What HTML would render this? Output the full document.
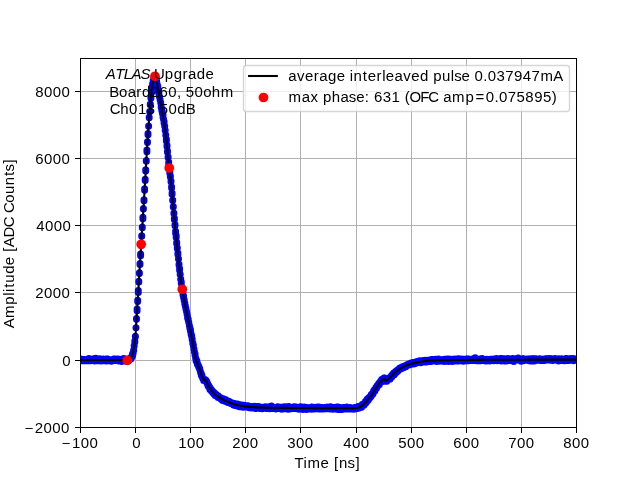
<!DOCTYPE html><html><head><meta charset="utf-8"><style>html,body{margin:0;padding:0;background:#fff;overflow:hidden}svg{display:block}</style></head><body>
<svg width="640" height="480" viewBox="0 0 640 480" style="font-family:'Liberation Sans',sans-serif;font-size:13.889px">
<rect width="640" height="480" fill="#fff"/>
<defs><clipPath id="ax"><rect x="80" y="57.6" width="496" height="369.6"/></clipPath></defs>
<path fill="#b0b0b0" d="M135 58h1v369h-1zM190 58h1v369h-1zM245 58h1v369h-1zM300 58h1v369h-1zM356 58h1v369h-1zM411 58h1v369h-1zM466 58h1v369h-1zM521 58h1v369h-1zM80 360h496v1h-496zM80 292h496v1h-496zM80 225h496v1h-496zM80 158h496v1h-496zM80 91h496v1h-496z"/>
<path fill="#000" d="M80 427h1v6h-1zM135 427h1v6h-1zM190 427h1v6h-1zM245 427h1v6h-1zM300 427h1v6h-1zM356 427h1v6h-1zM411 427h1v6h-1zM466 427h1v6h-1zM521 427h1v6h-1zM576 427h1v6h-1zM75 427h6v1h-6zM75 360h6v1h-6zM75 292h6v1h-6zM75 225h6v1h-6zM75 158h6v1h-6zM75 91h6v1h-6z"/>
<g clip-path="url(#ax)">
<path d="M80.3 360.4h0M80.3 359.8h0M80.3 360.2h0M80.9 360.8h0M80.9 360.6h0M80.9 359.0h0M81.4 360.8h0M81.4 359.9h0M81.4 359.7h0M82.0 359.7h0M82.0 360.7h0M82.0 360.2h0M82.6 359.9h0M82.6 359.6h0M82.6 360.3h0M83.2 360.6h0M83.2 359.5h0M83.2 359.4h0M83.7 359.8h0M83.7 360.3h0M83.7 359.8h0M84.3 359.9h0M84.3 359.5h0M84.3 360.7h0M84.9 359.9h0M84.9 360.1h0M84.9 360.6h0M85.5 359.9h0M85.5 360.0h0M85.5 360.2h0M86.0 359.8h0M86.0 360.8h0M86.0 360.0h0M86.6 359.8h0M86.6 359.8h0M86.6 359.4h0M87.2 360.6h0M87.2 360.8h0M87.2 359.9h0M87.7 359.8h0M87.7 358.9h0M87.7 359.7h0M88.3 360.5h0M88.3 359.6h0M88.3 360.5h0M88.9 360.8h0M88.9 358.6h0M88.9 359.8h0M89.5 359.6h0M89.5 359.7h0M89.5 359.0h0M90.0 359.8h0M90.0 359.3h0M90.0 360.6h0M90.6 360.7h0M90.6 359.2h0M90.6 359.2h0M91.2 359.7h0M91.2 359.9h0M91.2 359.9h0M91.8 360.4h0M91.8 359.2h0M91.8 359.6h0M92.3 359.7h0M92.3 359.8h0M92.3 359.4h0M92.9 359.7h0M92.9 359.6h0M92.9 360.6h0M93.5 359.7h0M93.5 358.8h0M93.5 360.3h0M94.1 360.1h0M94.1 359.5h0M94.1 359.5h0M94.6 359.7h0M94.6 360.9h0M94.6 359.7h0M95.2 360.6h0M95.2 360.4h0M95.2 359.7h0M95.8 360.2h0M95.8 359.6h0M95.8 358.3h0M96.4 359.6h0M96.4 359.6h0M96.4 360.5h0M96.9 360.3h0M96.9 360.6h0M96.9 360.3h0M97.5 360.6h0M97.5 360.4h0M97.5 360.1h0M98.1 360.5h0M98.1 360.8h0M98.1 360.7h0M98.7 359.8h0M98.7 360.0h0M98.7 359.4h0M99.2 359.4h0M99.2 360.2h0M99.2 359.6h0M99.8 360.8h0M99.8 358.8h0M99.8 359.4h0M100.4 360.1h0M100.4 360.6h0M100.4 359.8h0M101.0 361.0h0M101.0 360.4h0M101.0 359.6h0M101.5 360.0h0M101.5 360.3h0M101.5 359.5h0M102.1 360.6h0M102.1 359.8h0M102.1 360.3h0M102.7 360.5h0M102.7 359.8h0M102.7 360.5h0M103.2 359.0h0M103.2 360.3h0M103.2 358.9h0M103.8 360.6h0M103.8 359.7h0M103.8 360.6h0M104.4 360.7h0M104.4 359.9h0M104.4 359.6h0M105.0 360.7h0M105.0 359.4h0M105.0 360.4h0M105.5 359.9h0M105.5 359.8h0M105.5 359.7h0M106.1 361.0h0M106.1 359.1h0M106.1 359.7h0M106.7 360.2h0M106.7 360.6h0M106.7 360.9h0M107.3 360.7h0M107.3 359.7h0M107.3 360.2h0M107.8 360.6h0M107.8 360.3h0M107.8 359.2h0M108.4 360.2h0M108.4 360.3h0M108.4 359.3h0M109.0 359.8h0M109.0 360.0h0M109.0 360.3h0M109.6 360.8h0M109.6 360.6h0M109.6 360.3h0M110.1 360.1h0M110.1 359.8h0M110.1 359.7h0M110.7 359.9h0M110.7 359.9h0M110.7 360.5h0M111.3 361.2h0M111.3 360.3h0M111.3 360.5h0M111.9 360.4h0M111.9 360.1h0M111.9 360.7h0M112.4 360.6h0M112.4 360.1h0M112.4 359.9h0M113.0 360.4h0M113.0 359.7h0M113.0 360.1h0M113.6 360.5h0M113.6 360.0h0M113.6 359.0h0M114.2 360.4h0M114.2 359.4h0M114.2 359.3h0M114.7 359.2h0M114.7 360.4h0M114.7 358.9h0M115.3 359.9h0M115.3 360.1h0M115.3 360.1h0M115.9 359.7h0M115.9 360.0h0M115.9 360.1h0M116.5 359.3h0M116.5 360.4h0M116.5 360.6h0M117.0 359.6h0M117.0 359.6h0M117.0 359.4h0M117.6 360.6h0M117.6 359.4h0M117.6 359.7h0M118.2 359.1h0M118.2 360.7h0M118.2 359.9h0M118.7 360.1h0M118.7 360.9h0M118.7 360.4h0M119.3 359.4h0M119.3 360.3h0M119.3 360.4h0M119.9 359.5h0M119.9 359.5h0M119.9 359.5h0M120.5 360.4h0M120.5 360.0h0M120.5 359.4h0M121.0 360.4h0M121.0 360.4h0M121.0 359.6h0M121.6 359.2h0M121.6 360.6h0M121.6 361.4h0M122.2 360.8h0M122.2 360.5h0M122.2 360.1h0M122.8 359.7h0M122.8 360.1h0M122.8 360.4h0M123.3 359.9h0M123.3 360.5h0M123.3 360.0h0M123.9 360.3h0M123.9 358.6h0M123.9 359.6h0M124.5 360.4h0M124.5 360.5h0M124.5 360.2h0M125.1 360.9h0M125.1 360.4h0M125.1 360.4h0M125.6 359.5h0M125.6 360.2h0M125.6 360.4h0M126.2 360.7h0M126.2 360.6h0M126.2 360.0h0M126.8 360.1h0M126.8 359.4h0M126.8 360.3h0M127.4 359.3h0M127.4 359.8h0M127.4 359.9h0M127.9 360.9h0M127.9 360.5h0M127.9 359.4h0M128.5 359.0h0M128.5 359.6h0M128.5 359.3h0M129.1 359.8h0M129.1 359.8h0M129.1 360.0h0M129.7 358.9h0M129.7 359.3h0M129.7 359.6h0M130.2 359.2h0M130.2 358.8h0M130.2 358.9h0M130.8 359.0h0M130.8 357.5h0M130.8 358.4h0M131.4 357.6h0M131.4 356.9h0M131.4 357.1h0M132.0 356.6h0M132.0 356.4h0M132.0 357.0h0M132.5 355.0h0M132.5 356.0h0M132.5 354.0h0M133.1 353.6h0M133.1 352.5h0M133.1 353.0h0M133.7 350.4h0M133.7 349.9h0M133.7 349.9h0M134.2 346.1h0M134.2 345.4h0M134.2 345.9h0M134.8 341.3h0M134.8 342.2h0M134.8 341.1h0M135.4 336.2h0M135.4 336.5h0M135.4 336.8h0M136.0 327.7h0M136.0 327.8h0M136.0 327.7h0M136.5 318.8h0M136.5 319.2h0M136.5 318.4h0M137.1 310.8h0M137.1 310.2h0M137.1 309.0h0M137.7 301.5h0M137.7 300.8h0M137.7 300.3h0M138.3 292.6h0M138.3 290.4h0M138.3 292.2h0M138.8 281.3h0M138.8 281.4h0M138.8 281.9h0M139.4 273.6h0M139.4 272.8h0M139.4 273.1h0M140.0 263.5h0M140.0 264.4h0M140.0 264.0h0M140.6 253.9h0M140.6 255.8h0M140.6 254.8h0M141.1 245.6h0M141.1 245.6h0M141.1 245.0h0M141.7 235.7h0M141.7 236.3h0M141.7 236.3h0M142.3 227.7h0M142.3 227.3h0M142.3 227.0h0M142.9 218.7h0M142.9 217.2h0M142.9 217.4h0M143.4 208.4h0M143.4 208.9h0M143.4 208.8h0M144.0 199.7h0M144.0 200.4h0M144.0 200.7h0M144.6 189.4h0M144.6 190.2h0M144.6 188.7h0M145.2 179.3h0M145.2 180.4h0M145.2 180.5h0M145.7 169.7h0M145.7 170.9h0M145.7 170.3h0M146.3 161.0h0M146.3 161.3h0M146.3 160.6h0M146.9 150.1h0M146.9 151.5h0M146.9 151.8h0M147.5 141.8h0M147.5 142.3h0M147.5 142.4h0M148.0 133.9h0M148.0 134.7h0M148.0 133.4h0M148.6 126.3h0M148.6 125.9h0M148.6 126.1h0M149.2 117.4h0M149.2 117.3h0M149.2 117.7h0M149.7 111.7h0M149.7 111.5h0M149.7 111.5h0M150.3 104.8h0M150.3 104.6h0M150.3 104.1h0M150.9 96.7h0M150.9 97.7h0M150.9 98.2h0M151.5 92.2h0M151.5 92.4h0M151.5 91.5h0M152.0 86.5h0M152.0 88.2h0M152.0 87.1h0M152.6 84.2h0M152.6 83.8h0M152.6 84.1h0M153.2 82.3h0M153.2 82.1h0M153.2 80.6h0M153.8 78.7h0M153.8 79.6h0M153.8 78.6h0M154.3 77.2h0M154.3 78.0h0M154.3 78.3h0M154.9 76.8h0M154.9 75.8h0M154.9 76.0h0M155.5 76.1h0M155.5 75.9h0M155.5 75.7h0M156.1 79.0h0M156.1 78.1h0M156.1 78.1h0M156.6 81.3h0M156.6 81.0h0M156.6 80.9h0M157.2 84.2h0M157.2 85.1h0M157.2 84.4h0M157.8 86.2h0M157.8 87.9h0M157.8 88.4h0M158.4 90.3h0M158.4 89.7h0M158.4 90.3h0M158.9 94.1h0M158.9 93.1h0M158.9 93.8h0M159.5 97.1h0M159.5 96.7h0M159.5 97.0h0M160.1 99.4h0M160.1 99.7h0M160.1 99.7h0M160.7 102.7h0M160.7 102.8h0M160.7 102.6h0M161.2 107.4h0M161.2 107.1h0M161.2 106.2h0M161.8 110.5h0M161.8 109.7h0M161.8 109.7h0M162.4 113.1h0M162.4 113.2h0M162.4 112.1h0M163.0 117.3h0M163.0 115.6h0M163.0 114.7h0M163.5 119.1h0M163.5 119.3h0M163.5 119.1h0M164.1 121.5h0M164.1 123.3h0M164.1 122.6h0M164.7 126.3h0M164.7 126.2h0M164.7 126.2h0M165.2 130.3h0M165.2 130.4h0M165.2 130.4h0M165.8 135.3h0M165.8 135.1h0M165.8 135.2h0M166.4 140.2h0M166.4 141.0h0M166.4 139.3h0M167.0 145.6h0M167.0 146.5h0M167.0 145.2h0M167.5 152.3h0M167.5 151.1h0M167.5 151.6h0M168.1 156.8h0M168.1 157.5h0M168.1 157.4h0M168.7 162.5h0M168.7 161.9h0M168.7 164.5h0M169.3 167.8h0M169.3 167.7h0M169.3 168.5h0M169.8 173.2h0M169.8 171.7h0M169.8 172.8h0M170.4 175.9h0M170.4 177.0h0M170.4 176.9h0M171.0 181.8h0M171.0 181.3h0M171.0 181.0h0M171.6 186.7h0M171.6 187.9h0M171.6 187.3h0M172.1 192.9h0M172.1 193.1h0M172.1 194.2h0M172.7 200.4h0M172.7 200.5h0M172.7 200.1h0M173.3 206.4h0M173.3 206.9h0M173.3 206.4h0M173.9 213.4h0M173.9 213.1h0M173.9 213.0h0M174.4 218.2h0M174.4 219.7h0M174.4 218.4h0M175.0 224.4h0M175.0 225.6h0M175.0 225.7h0M175.6 233.2h0M175.6 231.2h0M175.6 231.2h0M176.2 235.6h0M176.2 237.5h0M176.2 236.4h0M176.7 243.1h0M176.7 242.2h0M176.7 243.8h0M177.3 247.7h0M177.3 248.4h0M177.3 247.9h0M177.9 253.7h0M177.9 254.4h0M177.9 253.0h0M178.5 258.8h0M178.5 258.9h0M178.5 259.0h0M179.0 264.3h0M179.0 264.4h0M179.0 265.0h0M179.6 270.2h0M179.6 268.6h0M179.6 268.9h0M180.2 274.3h0M180.2 274.4h0M180.2 274.5h0M180.7 278.9h0M180.7 279.2h0M180.7 279.3h0M181.3 282.0h0M181.3 283.0h0M181.3 283.6h0M181.9 287.9h0M181.9 287.7h0M181.9 286.9h0M182.5 290.4h0M182.5 291.1h0M182.5 290.7h0M183.0 294.4h0M183.0 294.9h0M183.0 293.3h0M183.6 297.3h0M183.6 296.1h0M183.6 297.8h0M184.2 300.4h0M184.2 299.8h0M184.2 300.4h0M184.8 303.9h0M184.8 303.6h0M184.8 303.1h0M185.3 305.6h0M185.3 306.0h0M185.3 305.4h0M185.9 308.2h0M185.9 308.5h0M185.9 308.8h0M186.5 311.6h0M186.5 311.4h0M186.5 311.2h0M187.1 314.5h0M187.1 314.3h0M187.1 314.6h0M187.6 318.0h0M187.6 317.9h0M187.6 316.9h0M188.2 319.8h0M188.2 319.0h0M188.2 320.1h0M188.8 322.4h0M188.8 322.2h0M188.8 322.2h0M189.4 325.6h0M189.4 325.7h0M189.4 325.4h0M189.9 328.4h0M189.9 328.0h0M189.9 327.5h0M190.5 331.1h0M190.5 329.8h0M190.5 331.3h0M191.1 333.8h0M191.1 333.9h0M191.1 334.4h0M191.7 336.6h0M191.7 336.6h0M191.7 335.7h0M192.2 339.0h0M192.2 339.1h0M192.2 339.7h0M192.8 343.4h0M192.8 342.7h0M192.8 343.2h0M193.4 345.3h0M193.4 345.9h0M193.4 345.1h0M194.0 348.9h0M194.0 349.0h0M194.0 349.2h0M194.5 352.3h0M194.5 352.2h0M194.5 351.8h0M195.1 355.6h0M195.1 355.3h0M195.1 354.1h0M195.7 358.2h0M195.7 358.1h0M195.7 358.5h0M196.2 361.1h0M196.2 359.6h0M196.2 360.1h0M196.8 362.0h0M196.8 361.2h0M196.8 360.8h0M197.4 364.2h0M197.4 363.2h0M197.4 363.4h0M198.0 364.7h0M198.0 364.9h0M198.0 365.2h0M198.5 365.7h0M198.5 366.3h0M198.5 366.4h0M199.1 367.2h0M199.1 367.4h0M199.1 367.7h0M199.7 369.1h0M199.7 368.4h0M199.7 369.2h0M200.3 371.2h0M200.3 371.4h0M200.3 371.2h0M200.8 373.3h0M200.8 372.8h0M200.8 372.6h0M201.4 375.6h0M201.4 374.3h0M201.4 374.0h0M202.0 375.9h0M202.0 376.6h0M202.0 375.4h0M202.6 377.7h0M202.6 378.1h0M202.6 378.1h0M203.1 379.0h0M203.1 378.4h0M203.1 378.4h0M203.7 379.9h0M203.7 380.6h0M203.7 380.3h0M204.3 380.3h0M204.3 380.0h0M204.3 380.8h0M204.9 379.6h0M204.9 379.4h0M204.9 379.8h0M205.4 379.9h0M205.4 380.7h0M205.4 380.9h0M206.0 381.2h0M206.0 380.3h0M206.0 380.3h0M206.6 382.2h0M206.6 381.2h0M206.6 382.1h0M207.2 382.4h0M207.2 383.0h0M207.2 383.5h0M207.7 383.8h0M207.7 384.7h0M207.7 384.8h0M208.3 386.2h0M208.3 385.3h0M208.3 385.5h0M208.9 386.7h0M208.9 386.8h0M208.9 385.7h0M209.5 387.7h0M209.5 388.0h0M209.5 386.9h0M210.0 387.7h0M210.0 388.3h0M210.0 389.4h0M210.6 389.6h0M210.6 388.9h0M210.6 389.2h0M211.2 389.2h0M211.2 390.7h0M211.2 389.7h0M211.7 391.1h0M211.7 390.0h0M211.7 390.8h0M212.3 390.9h0M212.3 391.8h0M212.3 392.1h0M212.9 392.6h0M212.9 392.4h0M212.9 392.7h0M213.5 392.0h0M213.5 391.9h0M213.5 392.5h0M214.0 393.9h0M214.0 393.3h0M214.0 393.6h0M214.6 393.1h0M214.6 393.6h0M214.6 393.6h0M215.2 394.5h0M215.2 395.5h0M215.2 394.8h0M215.8 395.5h0M215.8 394.7h0M215.8 394.7h0M216.3 395.8h0M216.3 395.5h0M216.3 394.5h0M216.9 396.3h0M216.9 396.3h0M216.9 395.9h0M217.5 396.6h0M217.5 396.4h0M217.5 395.9h0M218.1 395.7h0M218.1 397.6h0M218.1 396.6h0M218.6 397.0h0M218.6 397.1h0M218.6 397.1h0M219.2 397.6h0M219.2 396.9h0M219.2 397.6h0M219.8 397.8h0M219.8 397.7h0M219.8 397.7h0M220.4 398.2h0M220.4 397.5h0M220.4 398.1h0M220.9 398.3h0M220.9 398.5h0M220.9 399.0h0M221.5 399.2h0M221.5 399.4h0M221.5 398.7h0M222.1 399.5h0M222.1 399.7h0M222.1 399.0h0M222.7 399.2h0M222.7 400.4h0M222.7 398.5h0M223.2 399.7h0M223.2 399.8h0M223.2 399.2h0M223.8 400.0h0M223.8 400.4h0M223.8 398.9h0M224.4 400.9h0M224.4 400.4h0M224.4 399.9h0M225.0 401.2h0M225.0 400.7h0M225.0 400.4h0M225.5 399.6h0M225.5 401.4h0M225.5 400.9h0M226.1 400.8h0M226.1 401.1h0M226.1 401.8h0M226.7 401.2h0M226.7 401.3h0M226.7 401.2h0M227.2 401.1h0M227.2 401.1h0M227.2 401.4h0M227.8 401.7h0M227.8 402.5h0M227.8 401.9h0M228.4 402.0h0M228.4 402.3h0M228.4 402.1h0M229.0 402.8h0M229.0 401.5h0M229.0 401.2h0M229.5 402.8h0M229.5 402.4h0M229.5 402.7h0M230.1 402.1h0M230.1 402.6h0M230.1 402.7h0M230.7 403.1h0M230.7 402.9h0M230.7 403.5h0M231.3 402.9h0M231.3 403.6h0M231.3 403.0h0M231.8 403.4h0M231.8 402.8h0M231.8 403.4h0M232.4 403.1h0M232.4 404.1h0M232.4 403.3h0M233.0 404.0h0M233.0 403.7h0M233.0 403.8h0M233.6 403.5h0M233.6 405.1h0M233.6 403.9h0M234.1 405.0h0M234.1 403.6h0M234.1 405.3h0M234.7 404.9h0M234.7 405.3h0M234.7 403.5h0M235.3 405.2h0M235.3 404.5h0M235.3 404.8h0M235.9 405.7h0M235.9 404.9h0M235.9 404.4h0M236.4 405.0h0M236.4 404.3h0M236.4 405.0h0M237.0 405.0h0M237.0 405.2h0M237.0 404.8h0M237.6 404.1h0M237.6 404.9h0M237.6 405.0h0M238.2 405.6h0M238.2 405.6h0M238.2 404.5h0M238.7 406.0h0M238.7 405.8h0M238.7 405.4h0M239.3 405.7h0M239.3 404.4h0M239.3 406.7h0M239.9 405.4h0M239.9 405.2h0M239.9 406.2h0M240.5 406.0h0M240.5 405.5h0M240.5 404.8h0M241.0 406.3h0M241.0 406.6h0M241.0 405.3h0M241.6 405.1h0M241.6 406.1h0M241.6 407.1h0M242.2 405.2h0M242.2 406.1h0M242.2 405.4h0M242.7 406.1h0M242.7 406.3h0M242.7 406.3h0M243.3 405.4h0M243.3 405.4h0M243.3 407.3h0M243.9 406.7h0M243.9 405.3h0M243.9 406.4h0M244.5 407.1h0M244.5 406.3h0M244.5 406.4h0M245.0 406.5h0M245.0 406.7h0M245.0 406.6h0M245.6 406.7h0M245.6 406.3h0M245.6 406.9h0M246.2 406.7h0M246.2 406.6h0M246.2 405.8h0M246.8 406.4h0M246.8 406.6h0M246.8 406.3h0M247.3 406.4h0M247.3 406.1h0M247.3 406.4h0M247.9 405.7h0M247.9 406.0h0M247.9 406.7h0M248.5 407.0h0M248.5 406.3h0M248.5 406.5h0M249.1 406.9h0M249.1 407.6h0M249.1 407.8h0M249.6 406.7h0M249.6 406.4h0M249.6 406.4h0M250.2 407.6h0M250.2 406.4h0M250.2 407.2h0M250.8 406.7h0M250.8 406.7h0M250.8 407.4h0M251.4 407.3h0M251.4 408.1h0M251.4 407.5h0M251.9 408.0h0M251.9 406.8h0M251.9 407.0h0M252.5 406.6h0M252.5 406.9h0M252.5 407.4h0M253.1 407.0h0M253.1 407.4h0M253.1 406.8h0M253.7 407.0h0M253.7 407.7h0M253.7 407.2h0M254.2 407.2h0M254.2 407.4h0M254.2 406.7h0M254.8 406.3h0M254.8 407.5h0M254.8 407.5h0M255.4 408.5h0M255.4 407.4h0M255.4 407.5h0M256.0 408.5h0M256.0 407.2h0M256.0 407.0h0M256.5 407.8h0M256.5 407.6h0M256.5 407.9h0M257.1 407.0h0M257.1 408.2h0M257.1 407.6h0M257.7 406.4h0M257.7 407.4h0M257.7 407.2h0M258.2 407.5h0M258.2 408.1h0M258.2 407.5h0M258.8 407.2h0M258.8 408.0h0M258.8 407.3h0M259.4 406.8h0M259.4 406.9h0M259.4 408.3h0M260.0 408.0h0M260.0 408.4h0M260.0 406.9h0M260.5 407.2h0M260.5 407.1h0M260.5 408.0h0M261.1 408.2h0M261.1 407.5h0M261.1 407.5h0M261.7 408.0h0M261.7 407.5h0M261.7 407.2h0M262.3 407.4h0M262.3 408.1h0M262.3 408.7h0M262.8 407.7h0M262.8 407.5h0M262.8 407.7h0M263.4 407.8h0M263.4 407.9h0M263.4 407.2h0M264.0 407.6h0M264.0 407.5h0M264.0 408.1h0M264.6 407.9h0M264.6 407.5h0M264.6 408.1h0M265.1 408.3h0M265.1 407.8h0M265.1 407.0h0M265.7 407.5h0M265.7 406.8h0M265.7 407.7h0M266.3 407.8h0M266.3 408.4h0M266.3 407.9h0M266.9 406.9h0M266.9 407.5h0M266.9 407.2h0M267.4 407.3h0M267.4 407.7h0M267.4 407.8h0M268.0 407.6h0M268.0 407.3h0M268.0 407.4h0M268.6 407.4h0M268.6 407.6h0M268.6 408.1h0M269.2 407.8h0M269.2 408.2h0M269.2 407.1h0M269.7 408.8h0M269.7 407.8h0M269.7 406.4h0M270.3 407.9h0M270.3 408.3h0M270.3 407.7h0M270.9 407.0h0M270.9 407.8h0M270.9 407.4h0M271.5 407.7h0M271.5 407.9h0M271.5 406.0h0M272.0 407.7h0M272.0 408.0h0M272.0 408.0h0M272.6 407.5h0M272.6 407.5h0M272.6 407.3h0M273.2 407.7h0M273.2 408.5h0M273.2 407.5h0M273.7 407.9h0M273.7 407.9h0M273.7 408.6h0M274.3 408.1h0M274.3 408.2h0M274.3 407.8h0M274.9 408.6h0M274.9 407.7h0M274.9 407.7h0M275.5 408.4h0M275.5 408.1h0M275.5 408.2h0M276.0 407.3h0M276.0 409.1h0M276.0 408.0h0M276.6 408.7h0M276.6 408.0h0M276.6 407.3h0M277.2 408.1h0M277.2 407.7h0M277.2 408.3h0M277.8 406.8h0M277.8 407.3h0M277.8 407.2h0M278.3 408.5h0M278.3 408.4h0M278.3 407.2h0M278.9 407.9h0M278.9 408.0h0M278.9 407.6h0M279.5 408.5h0M279.5 407.4h0M279.5 407.8h0M280.1 407.6h0M280.1 408.2h0M280.1 407.6h0M280.6 408.2h0M280.6 407.3h0M280.6 407.2h0M281.2 407.4h0M281.2 407.6h0M281.2 407.5h0M281.8 409.3h0M281.8 407.4h0M281.8 408.0h0M282.4 407.8h0M282.4 408.0h0M282.4 408.6h0M282.9 408.2h0M282.9 407.5h0M282.9 407.1h0M283.5 408.2h0M283.5 408.4h0M283.5 407.1h0M284.1 408.3h0M284.1 406.8h0M284.1 407.8h0M284.7 408.4h0M284.7 407.3h0M284.7 407.0h0M285.2 408.7h0M285.2 407.0h0M285.2 408.0h0M285.8 407.1h0M285.8 408.1h0M285.8 408.7h0M286.4 407.6h0M286.4 407.4h0M286.4 406.8h0M287.0 407.0h0M287.0 407.5h0M287.0 408.0h0M287.5 408.2h0M287.5 408.1h0M287.5 408.3h0M288.1 408.1h0M288.1 409.3h0M288.1 407.8h0M288.7 407.9h0M288.7 406.5h0M288.7 407.5h0M289.2 408.2h0M289.2 407.6h0M289.2 408.6h0M289.8 408.2h0M289.8 408.9h0M289.8 407.2h0M290.4 407.6h0M290.4 408.6h0M290.4 408.0h0M291.0 407.4h0M291.0 407.7h0M291.0 407.7h0M291.5 408.4h0M291.5 408.3h0M291.5 407.9h0M292.1 407.4h0M292.1 408.4h0M292.1 408.5h0M292.7 407.3h0M292.7 408.4h0M292.7 407.4h0M293.3 407.8h0M293.3 407.5h0M293.3 407.0h0M293.8 407.6h0M293.8 407.5h0M293.8 408.4h0M294.4 408.3h0M294.4 407.6h0M294.4 407.1h0M295.0 407.2h0M295.0 406.7h0M295.0 407.8h0M295.6 407.9h0M295.6 407.4h0M295.6 408.0h0M296.1 408.0h0M296.1 408.5h0M296.1 407.4h0M296.7 408.6h0M296.7 407.7h0M296.7 408.7h0M297.3 407.4h0M297.3 408.5h0M297.3 407.5h0M297.9 408.8h0M297.9 408.2h0M297.9 407.3h0M298.4 408.4h0M298.4 408.0h0M298.4 408.2h0M299.0 409.2h0M299.0 407.8h0M299.0 407.8h0M299.6 408.6h0M299.6 407.7h0M299.6 408.4h0M300.2 408.5h0M300.2 408.0h0M300.2 408.4h0M300.7 406.8h0M300.7 408.8h0M300.7 407.6h0M301.3 407.5h0M301.3 409.1h0M301.3 408.9h0M301.9 407.7h0M301.9 408.3h0M301.9 407.8h0M302.5 407.4h0M302.5 408.2h0M302.5 408.6h0M303.0 409.5h0M303.0 407.9h0M303.0 408.5h0M303.6 407.9h0M303.6 407.9h0M303.6 408.8h0M304.2 407.1h0M304.2 407.5h0M304.2 407.6h0M304.7 408.7h0M304.7 408.3h0M304.7 408.3h0M305.3 408.3h0M305.3 408.6h0M305.3 407.8h0M305.9 407.9h0M305.9 407.8h0M305.9 408.3h0M306.5 407.4h0M306.5 407.9h0M306.5 409.5h0M307.0 408.4h0M307.0 408.1h0M307.0 407.5h0M307.6 408.2h0M307.6 408.2h0M307.6 408.4h0M308.2 407.7h0M308.2 408.3h0M308.2 408.4h0M308.8 408.5h0M308.8 407.8h0M308.8 408.4h0M309.3 409.0h0M309.3 407.7h0M309.3 408.5h0M309.9 407.9h0M309.9 407.9h0M309.9 407.4h0M310.5 407.5h0M310.5 408.4h0M310.5 408.2h0M311.1 408.8h0M311.1 407.2h0M311.1 407.8h0M311.6 407.3h0M311.6 408.3h0M311.6 409.2h0M312.2 407.3h0M312.2 408.0h0M312.2 408.0h0M312.8 408.1h0M312.8 407.8h0M312.8 407.8h0M313.4 409.0h0M313.4 407.5h0M313.4 408.4h0M313.9 408.4h0M313.9 407.2h0M313.9 407.6h0M314.5 408.3h0M314.5 409.1h0M314.5 408.0h0M315.1 407.8h0M315.1 408.2h0M315.1 408.8h0M315.7 408.5h0M315.7 408.8h0M315.7 408.0h0M316.2 407.7h0M316.2 407.6h0M316.2 408.5h0M316.8 408.0h0M316.8 407.8h0M316.8 408.4h0M317.4 408.2h0M317.4 407.0h0M317.4 408.0h0M318.0 407.7h0M318.0 408.4h0M318.0 408.1h0M318.5 409.1h0M318.5 408.2h0M318.5 407.5h0M319.1 407.0h0M319.1 407.5h0M319.1 407.8h0M319.7 408.1h0M319.7 408.5h0M319.7 408.2h0M320.2 407.8h0M320.2 408.6h0M320.2 407.7h0M320.8 408.7h0M320.8 409.1h0M320.8 408.7h0M321.4 409.1h0M321.4 408.9h0M321.4 407.6h0M322.0 408.3h0M322.0 408.0h0M322.0 407.5h0M322.5 407.5h0M322.5 408.4h0M322.5 407.5h0M323.1 408.0h0M323.1 408.2h0M323.1 407.9h0M323.7 408.9h0M323.7 408.6h0M323.7 408.2h0M324.3 407.9h0M324.3 408.4h0M324.3 408.3h0M324.8 407.7h0M324.8 407.4h0M324.8 407.8h0M325.4 407.5h0M325.4 408.4h0M325.4 408.4h0M326.0 408.0h0M326.0 408.4h0M326.0 408.5h0M326.6 407.3h0M326.6 408.3h0M326.6 408.7h0M327.1 407.9h0M327.1 407.2h0M327.1 408.2h0M327.7 407.5h0M327.7 408.4h0M327.7 408.5h0M328.3 408.6h0M328.3 408.3h0M328.3 407.2h0M328.9 408.8h0M328.9 407.3h0M328.9 408.8h0M329.4 408.3h0M329.4 407.8h0M329.4 407.9h0M330.0 408.1h0M330.0 409.1h0M330.0 408.0h0M330.6 408.8h0M330.6 406.8h0M330.6 408.3h0M331.2 408.1h0M331.2 408.8h0M331.2 408.5h0M331.7 408.9h0M331.7 407.7h0M331.7 408.4h0M332.3 407.9h0M332.3 408.6h0M332.3 408.5h0M332.9 407.5h0M332.9 408.8h0M332.9 409.2h0M333.5 408.0h0M333.5 408.9h0M333.5 408.5h0M334.0 407.8h0M334.0 408.7h0M334.0 407.8h0M334.6 408.6h0M334.6 407.4h0M334.6 407.5h0M335.2 408.5h0M335.2 408.4h0M335.2 408.7h0M335.7 408.1h0M335.7 407.6h0M335.7 409.0h0M336.3 407.8h0M336.3 409.0h0M336.3 408.7h0M336.9 409.2h0M336.9 407.1h0M336.9 408.2h0M337.5 408.1h0M337.5 408.6h0M337.5 407.7h0M338.0 409.4h0M338.0 408.2h0M338.0 407.1h0M338.6 408.5h0M338.6 408.3h0M338.6 407.9h0M339.2 408.7h0M339.2 408.3h0M339.2 407.7h0M339.8 408.2h0M339.8 408.1h0M339.8 408.5h0M340.3 408.1h0M340.3 408.2h0M340.3 407.5h0M340.9 407.9h0M340.9 408.4h0M340.9 409.6h0M341.5 407.9h0M341.5 407.9h0M341.5 408.8h0M342.1 409.4h0M342.1 408.9h0M342.1 407.8h0M342.6 408.9h0M342.6 408.5h0M342.6 408.2h0M343.2 407.6h0M343.2 408.3h0M343.2 408.3h0M343.8 408.6h0M343.8 407.4h0M343.8 407.7h0M344.4 408.3h0M344.4 409.0h0M344.4 408.7h0M344.9 408.0h0M344.9 408.7h0M344.9 407.8h0M345.5 408.1h0M345.5 408.1h0M345.5 407.9h0M346.1 408.0h0M346.1 408.7h0M346.1 408.5h0M346.7 407.0h0M346.7 408.9h0M346.7 408.5h0M347.2 407.7h0M347.2 408.4h0M347.2 408.7h0M347.8 409.0h0M347.8 408.0h0M347.8 407.7h0M348.4 407.5h0M348.4 408.3h0M348.4 407.7h0M349.0 408.8h0M349.0 408.2h0M349.0 408.7h0M349.5 408.2h0M349.5 407.9h0M349.5 407.7h0M350.1 408.8h0M350.1 407.6h0M350.1 408.6h0M350.7 408.8h0M350.7 408.4h0M350.7 409.1h0M351.2 408.3h0M351.2 408.1h0M351.2 408.4h0M351.8 408.0h0M351.8 408.5h0M351.8 408.3h0M352.4 409.1h0M352.4 408.3h0M352.4 408.8h0M353.0 408.5h0M353.0 408.3h0M353.0 408.2h0M353.5 409.2h0M353.5 409.1h0M353.5 408.5h0M354.1 408.0h0M354.1 408.1h0M354.1 407.8h0M354.7 407.6h0M354.7 408.0h0M354.7 408.3h0M355.3 408.9h0M355.3 408.8h0M355.3 408.5h0M355.8 408.1h0M355.8 408.1h0M355.8 408.2h0M356.4 408.2h0M356.4 407.8h0M356.4 408.1h0M357.0 407.9h0M357.0 407.9h0M357.0 408.3h0M357.6 408.4h0M357.6 407.6h0M357.6 407.6h0M358.1 407.8h0M358.1 407.9h0M358.1 406.5h0M358.7 407.9h0M358.7 407.6h0M358.7 407.3h0M359.3 407.9h0M359.3 407.2h0M359.3 406.3h0M359.9 406.6h0M359.9 406.7h0M359.9 406.7h0M360.4 406.7h0M360.4 406.3h0M360.4 406.9h0M361.0 406.7h0M361.0 406.4h0M361.0 406.0h0M361.6 405.9h0M361.6 405.8h0M361.6 407.2h0M362.2 405.0h0M362.2 404.4h0M362.2 404.9h0M362.7 405.3h0M362.7 405.6h0M362.7 405.0h0M363.3 405.2h0M363.3 404.2h0M363.3 404.9h0M363.9 403.5h0M363.9 403.4h0M363.9 405.2h0M364.5 403.4h0M364.5 403.9h0M364.5 404.3h0M365.0 403.2h0M365.0 403.1h0M365.0 402.4h0M365.6 403.2h0M365.6 401.9h0M365.6 401.3h0M366.2 401.5h0M366.2 401.5h0M366.2 401.8h0M366.7 401.8h0M366.7 400.9h0M366.7 401.0h0M367.3 400.2h0M367.3 399.1h0M367.3 400.1h0M367.9 399.6h0M367.9 399.0h0M367.9 400.5h0M368.5 399.8h0M368.5 399.3h0M368.5 399.4h0M369.0 398.1h0M369.0 398.6h0M369.0 397.4h0M369.6 396.9h0M369.6 397.2h0M369.6 397.8h0M370.2 396.6h0M370.2 396.5h0M370.2 397.5h0M370.8 396.0h0M370.8 395.8h0M370.8 396.1h0M371.3 394.5h0M371.3 394.7h0M371.3 395.9h0M371.9 394.5h0M371.9 395.0h0M371.9 394.3h0M372.5 394.3h0M372.5 393.3h0M372.5 393.6h0M373.1 392.4h0M373.1 393.1h0M373.1 393.7h0M373.6 391.0h0M373.6 392.2h0M373.6 391.3h0M374.2 390.9h0M374.2 390.8h0M374.2 390.1h0M374.8 390.0h0M374.8 389.4h0M374.8 390.9h0M375.4 388.8h0M375.4 389.4h0M375.4 389.3h0M375.9 388.3h0M375.9 388.0h0M375.9 387.4h0M376.5 388.3h0M376.5 387.4h0M376.5 387.7h0M377.1 385.8h0M377.1 386.8h0M377.1 386.2h0M377.7 385.8h0M377.7 385.2h0M377.7 385.0h0M378.2 385.0h0M378.2 384.8h0M378.2 385.5h0M378.8 383.9h0M378.8 383.5h0M378.8 384.3h0M379.4 382.7h0M379.4 384.4h0M379.4 384.2h0M380.0 383.2h0M380.0 382.8h0M380.0 382.5h0M380.5 381.8h0M380.5 381.8h0M380.5 381.3h0M381.1 381.4h0M381.1 381.8h0M381.1 381.8h0M381.7 379.4h0M381.7 381.8h0M381.7 380.6h0M382.2 379.2h0M382.2 379.7h0M382.2 380.5h0M382.8 379.6h0M382.8 379.1h0M382.8 378.9h0M383.4 379.6h0M383.4 378.7h0M383.4 379.0h0M384.0 378.2h0M384.0 378.1h0M384.0 379.0h0M384.5 379.8h0M384.5 378.9h0M384.5 378.1h0M385.1 379.6h0M385.1 379.9h0M385.1 378.7h0M385.7 381.3h0M385.7 380.3h0M385.7 381.1h0M386.3 380.7h0M386.3 380.7h0M386.3 379.9h0M386.8 380.9h0M386.8 380.7h0M386.8 381.3h0M387.4 379.7h0M387.4 380.3h0M387.4 379.8h0M388.0 380.1h0M388.0 379.7h0M388.0 379.0h0M388.6 379.2h0M388.6 378.8h0M388.6 378.8h0M389.1 378.8h0M389.1 379.4h0M389.1 378.1h0M389.7 378.0h0M389.7 377.6h0M389.7 379.2h0M390.3 378.4h0M390.3 378.7h0M390.3 378.0h0M390.9 376.4h0M390.9 376.6h0M390.9 376.9h0M391.4 376.2h0M391.4 375.8h0M391.4 376.4h0M392.0 375.4h0M392.0 375.6h0M392.0 376.8h0M392.6 375.2h0M392.6 374.2h0M392.6 375.2h0M393.2 374.4h0M393.2 374.7h0M393.2 374.6h0M393.7 373.1h0M393.7 373.9h0M393.7 374.3h0M394.3 374.8h0M394.3 373.5h0M394.3 374.1h0M394.9 373.6h0M394.9 372.2h0M394.9 372.2h0M395.5 373.1h0M395.5 371.6h0M395.5 371.9h0M396.0 372.0h0M396.0 371.2h0M396.0 372.5h0M396.6 371.8h0M396.6 371.9h0M396.6 371.8h0M397.2 370.3h0M397.2 371.5h0M397.2 371.4h0M397.7 370.9h0M397.7 370.2h0M397.7 370.5h0M398.3 369.5h0M398.3 370.3h0M398.3 370.6h0M398.9 369.8h0M398.9 369.6h0M398.9 370.1h0M399.5 369.0h0M399.5 368.2h0M399.5 369.5h0M400.0 368.8h0M400.0 368.1h0M400.0 369.2h0M400.6 368.9h0M400.6 369.1h0M400.6 368.2h0M401.2 367.8h0M401.2 368.2h0M401.2 368.1h0M401.8 367.1h0M401.8 367.3h0M401.8 368.6h0M402.3 367.5h0M402.3 367.4h0M402.3 367.1h0M402.9 367.3h0M402.9 367.5h0M402.9 367.4h0M403.5 367.8h0M403.5 366.9h0M403.5 367.2h0M404.1 366.3h0M404.1 367.1h0M404.1 366.8h0M404.6 366.8h0M404.6 366.8h0M404.6 365.9h0M405.2 366.3h0M405.2 365.8h0M405.2 366.6h0M405.8 365.7h0M405.8 366.7h0M405.8 366.0h0M406.4 365.8h0M406.4 365.2h0M406.4 365.4h0M406.9 365.3h0M406.9 364.8h0M406.9 365.1h0M407.5 364.7h0M407.5 364.6h0M407.5 365.1h0M408.1 365.0h0M408.1 364.6h0M408.1 365.0h0M408.7 364.4h0M408.7 364.0h0M408.7 364.1h0M409.2 364.6h0M409.2 365.1h0M409.2 364.4h0M409.8 364.3h0M409.8 363.6h0M409.8 364.4h0M410.4 364.1h0M410.4 363.6h0M410.4 364.3h0M411.0 364.0h0M411.0 363.0h0M411.0 363.1h0M411.5 363.4h0M411.5 363.6h0M411.5 364.2h0M412.1 363.2h0M412.1 363.5h0M412.1 363.4h0M412.7 363.7h0M412.7 363.4h0M412.7 363.5h0M413.2 363.1h0M413.2 362.5h0M413.2 363.1h0M413.8 364.0h0M413.8 363.6h0M413.8 363.9h0M414.4 363.4h0M414.4 362.7h0M414.4 362.7h0M415.0 363.1h0M415.0 362.7h0M415.0 363.2h0M415.5 363.5h0M415.5 363.5h0M415.5 363.2h0M416.1 361.8h0M416.1 363.3h0M416.1 361.9h0M416.7 361.7h0M416.7 362.5h0M416.7 362.5h0M417.3 362.7h0M417.3 362.3h0M417.3 362.0h0M417.8 362.2h0M417.8 361.7h0M417.8 361.6h0M418.4 361.9h0M418.4 361.9h0M418.4 362.1h0M419.0 361.8h0M419.0 362.6h0M419.0 361.8h0M419.6 361.8h0M419.6 362.4h0M419.6 360.7h0M420.1 362.3h0M420.1 362.3h0M420.1 361.7h0M420.7 362.7h0M420.7 362.1h0M420.7 362.5h0M421.3 362.1h0M421.3 361.7h0M421.3 361.5h0M421.9 360.9h0M421.9 361.1h0M421.9 360.9h0M422.4 361.1h0M422.4 361.7h0M422.4 360.9h0M423.0 361.6h0M423.0 361.7h0M423.0 360.6h0M423.6 360.9h0M423.6 361.2h0M423.6 360.9h0M424.2 360.7h0M424.2 361.9h0M424.2 361.3h0M424.7 361.8h0M424.7 361.1h0M424.7 361.5h0M425.3 360.3h0M425.3 360.8h0M425.3 361.5h0M425.9 361.0h0M425.9 361.6h0M425.9 361.0h0M426.5 360.6h0M426.5 360.8h0M426.5 362.0h0M427.0 361.1h0M427.0 360.6h0M427.0 360.7h0M427.6 360.2h0M427.6 361.5h0M427.6 360.5h0M428.2 361.1h0M428.2 360.7h0M428.2 360.6h0M428.7 360.4h0M428.7 361.1h0M428.7 360.6h0M429.3 361.3h0M429.3 361.5h0M429.3 360.4h0M429.9 360.7h0M429.9 361.6h0M429.9 361.1h0M430.5 360.6h0M430.5 359.8h0M430.5 360.1h0M431.0 360.2h0M431.0 361.6h0M431.0 360.7h0M431.6 360.3h0M431.6 360.4h0M431.6 360.4h0M432.2 360.7h0M432.2 359.6h0M432.2 359.8h0M432.8 360.6h0M432.8 361.1h0M432.8 359.4h0M433.3 360.8h0M433.3 359.9h0M433.3 359.5h0M433.9 361.0h0M433.9 360.3h0M433.9 360.7h0M434.5 360.2h0M434.5 360.3h0M434.5 359.4h0M435.1 360.1h0M435.1 360.5h0M435.1 359.9h0M435.6 360.6h0M435.6 360.6h0M435.6 359.2h0M436.2 360.9h0M436.2 360.7h0M436.2 360.4h0M436.8 361.0h0M436.8 361.5h0M436.8 359.8h0M437.4 360.8h0M437.4 360.7h0M437.4 360.6h0M437.9 360.9h0M437.9 361.0h0M437.9 360.3h0M438.5 359.1h0M438.5 360.0h0M438.5 360.0h0M439.1 361.2h0M439.1 360.4h0M439.1 361.0h0M439.7 359.9h0M439.7 360.5h0M439.7 360.3h0M440.2 360.4h0M440.2 360.6h0M440.2 361.1h0M440.8 360.0h0M440.8 361.1h0M440.8 360.9h0M441.4 360.5h0M441.4 360.7h0M441.4 360.2h0M442.0 359.7h0M442.0 360.2h0M442.0 360.2h0M442.5 360.3h0M442.5 359.8h0M442.5 361.3h0M443.1 360.1h0M443.1 360.8h0M443.1 360.9h0M443.7 360.3h0M443.7 360.5h0M443.7 359.9h0M444.2 359.7h0M444.2 361.5h0M444.2 360.3h0M444.8 359.2h0M444.8 359.8h0M444.8 359.5h0M445.4 360.2h0M445.4 361.0h0M445.4 360.8h0M446.0 359.8h0M446.0 359.7h0M446.0 360.6h0M446.5 360.3h0M446.5 360.1h0M446.5 361.1h0M447.1 360.4h0M447.1 359.3h0M447.1 359.0h0M447.7 360.2h0M447.7 359.2h0M447.7 360.5h0M448.3 360.6h0M448.3 361.4h0M448.3 359.7h0M448.8 360.4h0M448.8 358.9h0M448.8 360.0h0M449.4 360.1h0M449.4 361.1h0M449.4 359.3h0M450.0 360.3h0M450.0 360.2h0M450.0 361.3h0M450.6 359.6h0M450.6 359.6h0M450.6 360.5h0M451.1 360.1h0M451.1 359.9h0M451.1 359.6h0M451.7 360.1h0M451.7 359.2h0M451.7 360.2h0M452.3 360.4h0M452.3 360.4h0M452.3 361.5h0M452.9 360.5h0M452.9 359.6h0M452.9 360.0h0M453.4 360.5h0M453.4 359.9h0M453.4 361.2h0M454.0 360.2h0M454.0 359.8h0M454.0 359.7h0M454.6 360.5h0M454.6 359.6h0M454.6 359.1h0M455.2 360.3h0M455.2 359.7h0M455.2 360.9h0M455.7 361.1h0M455.7 359.7h0M455.7 360.0h0M456.3 359.9h0M456.3 360.4h0M456.3 360.2h0M456.9 359.6h0M456.9 359.1h0M456.9 360.2h0M457.5 360.9h0M457.5 359.4h0M457.5 359.7h0M458.0 359.7h0M458.0 359.9h0M458.0 358.8h0M458.6 360.0h0M458.6 359.7h0M458.6 361.0h0M459.2 360.3h0M459.2 360.4h0M459.2 360.0h0M459.7 359.8h0M459.7 360.4h0M459.7 359.1h0M460.3 360.6h0M460.3 360.2h0M460.3 359.9h0M460.9 360.7h0M460.9 359.7h0M460.9 359.7h0M461.5 360.2h0M461.5 359.0h0M461.5 359.9h0M462.0 359.8h0M462.0 360.5h0M462.0 360.9h0M462.6 360.3h0M462.6 360.2h0M462.6 360.2h0M463.2 359.6h0M463.2 361.3h0M463.2 360.6h0M463.8 361.0h0M463.8 359.2h0M463.8 360.3h0M464.3 360.2h0M464.3 360.6h0M464.3 359.5h0M464.9 360.2h0M464.9 359.8h0M464.9 361.1h0M465.5 359.3h0M465.5 359.7h0M465.5 359.7h0M466.1 359.3h0M466.1 360.1h0M466.1 360.0h0M466.6 359.6h0M466.6 359.7h0M466.6 360.1h0M467.2 359.9h0M467.2 360.2h0M467.2 359.6h0M467.8 359.4h0M467.8 359.9h0M467.8 358.9h0M468.4 360.8h0M468.4 360.1h0M468.4 359.0h0M468.9 360.2h0M468.9 360.8h0M468.9 359.2h0M469.5 359.6h0M469.5 360.6h0M469.5 359.5h0M470.1 360.5h0M470.1 360.6h0M470.1 360.0h0M470.7 360.2h0M470.7 360.5h0M470.7 360.1h0M471.2 360.5h0M471.2 359.9h0M471.2 359.9h0M471.8 359.5h0M471.8 360.2h0M471.8 360.6h0M472.4 360.6h0M472.4 360.0h0M472.4 359.1h0M473.0 359.5h0M473.0 360.3h0M473.0 359.4h0M473.5 360.5h0M473.5 359.4h0M473.5 360.1h0M474.1 359.5h0M474.1 359.6h0M474.1 360.1h0M474.7 359.7h0M474.7 360.5h0M474.7 359.9h0M475.2 359.3h0M475.2 357.7h0M475.2 359.5h0M475.8 359.8h0M475.8 360.4h0M475.8 359.3h0M476.4 360.8h0M476.4 360.3h0M476.4 359.7h0M477.0 360.5h0M477.0 359.1h0M477.0 359.3h0M477.5 360.2h0M477.5 360.2h0M477.5 360.6h0M478.1 360.6h0M478.1 359.6h0M478.1 359.5h0M478.7 359.7h0M478.7 359.7h0M478.7 360.2h0M479.3 359.7h0M479.3 360.7h0M479.3 359.9h0M479.8 359.1h0M479.8 359.2h0M479.8 360.1h0M480.4 360.1h0M480.4 359.1h0M480.4 358.9h0M481.0 360.7h0M481.0 360.1h0M481.0 359.7h0M481.6 359.2h0M481.6 360.3h0M481.6 359.5h0M482.1 360.0h0M482.1 358.6h0M482.1 359.6h0M482.7 359.9h0M482.7 360.0h0M482.7 359.3h0M483.3 359.5h0M483.3 360.4h0M483.3 359.7h0M483.9 360.6h0M483.9 360.3h0M483.9 360.6h0M484.4 360.6h0M484.4 360.2h0M484.4 360.4h0M485.0 359.6h0M485.0 359.4h0M485.0 360.0h0M485.6 360.5h0M485.6 359.4h0M485.6 360.9h0M486.2 360.9h0M486.2 359.5h0M486.2 359.5h0M486.7 359.3h0M486.7 360.0h0M486.7 360.5h0M487.3 360.1h0M487.3 359.5h0M487.3 360.3h0M487.9 360.2h0M487.9 360.6h0M487.9 360.5h0M488.5 359.4h0M488.5 359.6h0M488.5 360.5h0M489.0 360.4h0M489.0 360.1h0M489.0 359.5h0M489.6 360.5h0M489.6 359.9h0M489.6 361.0h0M490.2 360.5h0M490.2 359.6h0M490.2 359.3h0M490.7 360.4h0M490.7 360.2h0M490.7 359.4h0M491.3 360.0h0M491.3 360.1h0M491.3 359.5h0M491.9 359.7h0M491.9 359.2h0M491.9 359.4h0M492.5 360.1h0M492.5 359.9h0M492.5 359.8h0M493.0 360.5h0M493.0 360.3h0M493.0 359.3h0M493.6 360.7h0M493.6 359.3h0M493.6 359.7h0M494.2 359.9h0M494.2 359.5h0M494.2 359.5h0M494.8 359.2h0M494.8 360.0h0M494.8 359.9h0M495.3 359.9h0M495.3 358.8h0M495.3 359.3h0M495.9 360.3h0M495.9 360.0h0M495.9 360.2h0M496.5 359.8h0M496.5 359.7h0M496.5 358.6h0M497.1 360.8h0M497.1 359.2h0M497.1 359.6h0M497.6 360.2h0M497.6 359.9h0M497.6 360.1h0M498.2 359.8h0M498.2 359.2h0M498.2 360.6h0M498.8 359.1h0M498.8 360.0h0M498.8 359.0h0M499.4 359.6h0M499.4 359.1h0M499.4 359.5h0M499.9 359.2h0M499.9 359.7h0M499.9 360.2h0M500.5 359.4h0M500.5 359.4h0M500.5 358.6h0M501.1 360.9h0M501.1 359.9h0M501.1 359.2h0M501.7 360.4h0M501.7 359.9h0M501.7 358.6h0M502.2 359.0h0M502.2 360.2h0M502.2 359.0h0M502.8 359.1h0M502.8 359.3h0M502.8 359.6h0M503.4 359.6h0M503.4 360.2h0M503.4 360.0h0M504.0 359.4h0M504.0 359.7h0M504.0 358.8h0M504.5 359.9h0M504.5 361.1h0M504.5 359.9h0M505.1 359.6h0M505.1 359.5h0M505.1 359.7h0M505.7 360.2h0M505.7 358.9h0M505.7 360.1h0M506.2 359.4h0M506.2 359.9h0M506.2 360.4h0M506.8 359.0h0M506.8 361.1h0M506.8 360.2h0M507.4 359.5h0M507.4 359.9h0M507.4 359.3h0M508.0 359.8h0M508.0 360.0h0M508.0 358.6h0M508.5 359.9h0M508.5 359.8h0M508.5 360.3h0M509.1 360.1h0M509.1 359.4h0M509.1 359.4h0M509.7 359.7h0M509.7 360.1h0M509.7 359.4h0M510.3 360.6h0M510.3 359.9h0M510.3 359.9h0M510.8 360.2h0M510.8 359.6h0M510.8 360.1h0M511.4 360.2h0M511.4 358.8h0M511.4 359.3h0M512.0 359.1h0M512.0 359.7h0M512.0 359.2h0M512.6 359.3h0M512.6 359.1h0M512.6 358.4h0M513.1 359.8h0M513.1 359.6h0M513.1 359.7h0M513.7 361.6h0M513.7 360.5h0M513.7 359.7h0M514.3 359.4h0M514.3 360.0h0M514.3 359.1h0M514.9 359.0h0M514.9 359.9h0M514.9 358.9h0M515.4 358.8h0M515.4 359.5h0M515.4 360.2h0M516.0 358.9h0M516.0 359.8h0M516.0 359.9h0M516.6 359.6h0M516.6 360.0h0M516.6 359.1h0M517.2 359.3h0M517.2 359.0h0M517.2 359.4h0M517.7 360.1h0M517.7 359.8h0M517.7 359.2h0M518.3 359.9h0M518.3 358.1h0M518.3 359.8h0M518.9 360.0h0M518.9 359.1h0M518.9 359.3h0M519.5 359.7h0M519.5 359.8h0M519.5 359.5h0M520.0 359.2h0M520.0 359.3h0M520.0 359.9h0M520.6 359.5h0M520.6 359.2h0M520.6 359.3h0M521.2 361.3h0M521.2 360.2h0M521.2 360.1h0M521.7 359.8h0M521.7 359.6h0M521.7 359.2h0M522.3 359.3h0M522.3 359.8h0M522.3 359.7h0M522.9 358.7h0M522.9 360.0h0M522.9 359.5h0M523.5 358.8h0M523.5 359.5h0M523.5 360.8h0M524.0 359.5h0M524.0 359.9h0M524.0 359.7h0M524.6 359.1h0M524.6 359.4h0M524.6 359.8h0M525.2 359.2h0M525.2 359.4h0M525.2 359.6h0M525.8 359.5h0M525.8 359.5h0M525.8 359.9h0M526.3 359.9h0M526.3 359.7h0M526.3 360.2h0M526.9 360.3h0M526.9 359.0h0M526.9 359.8h0M527.5 359.7h0M527.5 359.7h0M527.5 359.7h0M528.1 359.7h0M528.1 359.6h0M528.1 360.1h0M528.6 359.2h0M528.6 360.0h0M528.6 359.1h0M529.2 360.7h0M529.2 360.2h0M529.2 359.1h0M529.8 359.7h0M529.8 360.0h0M529.8 359.5h0M530.4 360.2h0M530.4 359.6h0M530.4 360.9h0M530.9 359.9h0M530.9 360.0h0M530.9 359.4h0M531.5 359.2h0M531.5 360.1h0M531.5 358.8h0M532.1 360.0h0M532.1 360.8h0M532.1 360.9h0M532.7 358.8h0M532.7 359.7h0M532.7 360.0h0M533.2 360.1h0M533.2 360.2h0M533.2 358.9h0M533.8 359.7h0M533.8 358.7h0M533.8 359.8h0M534.4 360.9h0M534.4 359.2h0M534.4 359.8h0M535.0 359.8h0M535.0 358.8h0M535.0 359.8h0M535.5 359.0h0M535.5 359.6h0M535.5 360.1h0M536.1 359.4h0M536.1 360.0h0M536.1 359.0h0M536.7 359.1h0M536.7 359.6h0M536.7 359.3h0M537.2 359.3h0M537.2 359.8h0M537.2 359.2h0M537.8 359.8h0M537.8 359.3h0M537.8 360.2h0M538.4 359.6h0M538.4 359.4h0M538.4 360.1h0M539.0 359.9h0M539.0 359.9h0M539.0 359.2h0M539.5 360.0h0M539.5 359.4h0M539.5 358.8h0M540.1 359.4h0M540.1 360.5h0M540.1 359.6h0M540.7 359.1h0M540.7 359.8h0M540.7 359.0h0M541.3 359.3h0M541.3 359.4h0M541.3 359.8h0M541.8 359.9h0M541.8 359.8h0M541.8 359.6h0M542.4 359.3h0M542.4 359.4h0M542.4 359.8h0M543.0 359.6h0M543.0 359.4h0M543.0 360.5h0M543.6 360.0h0M543.6 360.1h0M543.6 359.7h0M544.1 359.8h0M544.1 359.8h0M544.1 360.1h0M544.7 359.3h0M544.7 359.5h0M544.7 360.5h0M545.3 359.6h0M545.3 360.2h0M545.3 358.7h0M545.9 359.9h0M545.9 359.8h0M545.9 359.6h0M546.4 359.7h0M546.4 359.6h0M546.4 358.8h0M547.0 359.5h0M547.0 359.2h0M547.0 359.0h0M547.6 360.1h0M547.6 358.7h0M547.6 359.2h0M548.2 359.1h0M548.2 360.1h0M548.2 359.2h0M548.7 359.4h0M548.7 359.9h0M548.7 358.4h0M549.3 359.3h0M549.3 359.7h0M549.3 359.5h0M549.9 359.1h0M549.9 359.0h0M549.9 359.3h0M550.5 359.0h0M550.5 358.8h0M550.5 360.3h0M551.0 359.9h0M551.0 360.1h0M551.0 359.6h0M551.6 358.8h0M551.6 359.3h0M551.6 360.2h0M552.2 359.8h0M552.2 359.1h0M552.2 359.9h0M552.7 359.7h0M552.7 359.4h0M552.7 360.6h0M553.3 359.2h0M553.3 359.4h0M553.3 359.3h0M553.9 360.1h0M553.9 360.0h0M553.9 359.9h0M554.5 359.5h0M554.5 359.6h0M554.5 359.5h0M555.0 358.6h0M555.0 358.9h0M555.0 360.0h0M555.6 360.0h0M555.6 358.7h0M555.6 359.8h0M556.2 358.9h0M556.2 358.7h0M556.2 359.9h0M556.8 359.7h0M556.8 359.6h0M556.8 360.1h0M557.3 360.1h0M557.3 359.8h0M557.3 359.1h0M557.9 359.8h0M557.9 359.7h0M557.9 359.8h0M558.5 360.3h0M558.5 358.8h0M558.5 360.9h0M559.1 359.9h0M559.1 359.3h0M559.1 360.3h0M559.6 359.3h0M559.6 358.9h0M559.6 360.1h0M560.2 359.5h0M560.2 360.2h0M560.2 359.3h0M560.8 359.5h0M560.8 359.5h0M560.8 358.9h0M561.4 359.3h0M561.4 358.9h0M561.4 359.3h0M561.9 360.2h0M561.9 359.5h0M561.9 359.3h0M562.5 360.4h0M562.5 358.9h0M562.5 359.6h0M563.1 359.4h0M563.1 360.1h0M563.1 359.6h0M563.7 359.4h0M563.7 359.8h0M563.7 359.6h0M564.2 360.7h0M564.2 358.9h0M564.2 360.2h0M564.8 360.8h0M564.8 360.1h0M564.8 360.0h0M565.4 359.3h0M565.4 360.1h0M565.4 359.4h0M566.0 360.1h0M566.0 358.4h0M566.0 359.3h0M566.5 358.5h0M566.5 360.1h0M566.5 359.2h0M567.1 360.1h0M567.1 359.3h0M567.1 359.2h0M567.7 360.4h0M567.7 360.2h0M567.7 360.2h0M568.2 360.4h0M568.2 360.0h0M568.2 360.1h0M568.8 360.4h0M568.8 359.5h0M568.8 359.3h0M569.4 360.3h0M569.4 359.9h0M569.4 359.6h0M570.0 359.7h0M570.0 360.0h0M570.0 359.2h0M570.5 359.1h0M570.5 359.2h0M570.5 359.7h0M571.1 358.5h0M571.1 358.7h0M571.1 359.8h0M571.7 359.7h0M571.7 359.0h0M571.7 360.0h0M572.3 359.4h0M572.3 359.6h0M572.3 360.0h0M572.8 359.7h0M572.8 360.4h0M572.8 359.9h0M573.4 360.7h0M573.4 358.4h0M573.4 358.8h0M574.0 358.9h0M574.0 359.4h0M574.0 359.1h0M574.6 358.9h0M574.6 359.0h0M574.6 359.1h0M575.1 360.1h0M575.1 359.4h0M575.1 359.9h0M575.7 360.2h0M575.7 360.2h0M575.7 359.4h0" stroke="#0000ff" stroke-width="7" stroke-linecap="round" fill="none"/>
<path d="M80.00 360.00 80.28 360.00 80.55 360.00 80.83 360.00 81.10 360.00 81.38 360.00 81.65 360.00 81.93 360.00 82.20 360.00 82.48 360.00 82.76 360.00 83.03 360.00 83.31 360.00 83.58 360.00 83.86 360.00 84.13 360.00 84.41 360.00 84.68 360.00 84.96 360.00 85.24 360.00 85.51 360.00 85.79 360.00 86.06 360.00 86.34 360.00 86.61 360.00 86.89 360.00 87.16 360.00 87.44 360.00 87.72 360.00 87.99 360.00 88.27 360.00 88.54 360.00 88.82 360.00 89.09 360.00 89.37 360.00 89.64 360.00 89.92 360.00 90.20 360.00 90.47 360.00 90.75 360.00 91.02 360.00 91.30 360.00 91.57 360.00 91.85 360.00 92.12 360.00 92.40 360.00 92.68 360.00 92.95 360.00 93.23 360.00 93.50 360.00 93.78 360.00 94.05 360.00 94.33 360.00 94.60 360.00 94.88 360.00 95.16 360.00 95.43 360.00 95.71 360.00 95.98 360.00 96.26 360.00 96.53 360.00 96.81 360.00 97.08 360.00 97.36 360.00 97.64 360.00 97.91 360.00 98.19 360.00 98.46 360.00 98.74 360.00 99.01 360.00 99.29 360.00 99.56 360.00 99.84 360.00 100.12 360.00 100.39 360.00 100.67 360.00 100.94 360.00 101.22 360.00 101.49 360.00 101.77 360.00 102.04 360.00 102.32 360.00 102.60 360.00 102.87 360.00 103.15 360.00 103.42 360.00 103.70 360.00 103.97 360.00 104.25 360.00 104.52 360.00 104.80 360.00 105.08 360.00 105.35 360.00 105.63 360.00 105.90 360.00 106.18 360.00 106.45 360.00 106.73 360.00 107.00 360.00 107.28 360.00 107.56 360.00 107.83 360.00 108.11 360.00 108.38 360.00 108.66 360.00 108.93 360.00 109.21 360.00 109.48 360.00 109.76 360.00 110.04 360.00 110.31 360.00 110.59 360.00 110.86 360.00 111.14 360.00 111.41 360.00 111.69 360.00 111.96 360.00 112.24 360.00 112.52 360.00 112.79 360.00 113.07 360.00 113.34 360.00 113.62 360.00 113.89 360.00 114.17 360.00 114.44 360.00 114.72 360.00 115.00 360.00 115.27 360.00 115.55 360.00 115.82 360.00 116.10 360.00 116.37 360.00 116.65 360.00 116.92 360.00 117.20 360.00 117.48 360.00 117.75 360.00 118.03 360.00 118.30 360.00 118.58 360.00 118.85 360.00 119.13 360.00 119.40 360.00 119.68 360.00 119.96 360.00 120.23 360.00 120.51 360.00 120.78 360.00 121.06 360.00 121.33 360.00 121.61 360.00 121.88 360.00 122.16 360.00 122.44 360.00 122.71 360.00 122.99 360.00 123.26 360.00 123.54 360.00 123.81 360.00 124.09 360.00 124.36 360.00 124.64 360.00 124.92 360.00 125.19 360.00 125.47 360.00 125.74 360.00 126.02 360.00 126.29 360.00 126.57 359.99 126.84 359.97 127.12 359.94 127.40 359.91 127.67 359.88 127.95 359.84 128.22 359.79 128.50 359.74 128.77 359.68 129.05 359.61 129.32 359.55 129.60 359.47 129.88 359.34 130.15 359.14 130.43 358.89 130.70 358.59 130.98 358.25 131.25 357.87 131.53 357.45 131.80 356.91 132.08 356.20 132.36 355.35 132.63 354.39 132.91 353.36 133.18 352.25 133.46 350.97 133.73 349.52 134.01 347.89 134.28 346.11 134.56 344.10 134.84 341.79 135.11 339.19 135.39 336.28 135.66 332.96 135.94 328.88 136.21 324.36 136.49 319.78 136.76 315.42 137.04 311.07 137.32 306.71 137.59 302.33 137.87 297.93 138.14 293.52 138.42 289.09 138.69 284.66 138.97 280.22 139.24 275.78 139.52 271.33 139.80 266.89 140.07 262.44 140.35 258.00 140.62 253.57 140.90 249.14 141.17 244.73 141.45 240.33 141.72 235.94 142.00 231.56 142.28 227.19 142.55 222.82 142.83 218.45 143.10 214.07 143.38 209.69 143.65 205.29 143.93 200.87 144.20 196.42 144.48 191.96 144.76 187.44 145.03 182.82 145.31 178.12 145.58 173.37 145.86 168.60 146.13 163.84 146.41 159.12 146.68 154.48 146.96 149.95 147.24 145.55 147.51 141.32 147.79 137.26 148.06 133.25 148.34 129.31 148.61 125.46 148.89 121.72 149.16 118.09 149.44 114.60 149.72 111.26 149.99 108.10 150.27 105.01 150.54 101.90 150.82 98.84 151.09 95.89 151.37 93.13 151.64 90.61 151.92 88.41 152.20 86.58 152.47 85.10 152.75 83.67 153.02 82.28 153.30 80.96 153.57 79.73 153.85 78.62 154.12 77.65 154.40 76.86 154.68 76.27 154.95 75.91 155.23 75.80 155.50 76.08 155.78 76.75 156.05 77.77 156.33 79.05 156.60 80.53 156.88 82.13 157.16 83.79 157.43 85.44 157.71 86.99 157.98 88.41 158.26 89.81 158.53 91.24 158.81 92.71 159.08 94.21 159.36 95.74 159.64 97.28 159.91 98.85 160.19 100.42 160.46 102.01 160.74 103.60 161.01 105.19 161.29 106.79 161.56 108.37 161.84 109.93 162.12 111.46 162.39 112.98 162.67 114.50 162.94 116.02 163.22 117.55 163.49 119.12 163.77 120.72 164.04 122.36 164.32 124.07 164.60 125.84 164.87 127.68 165.15 129.61 165.42 131.67 165.70 133.90 165.97 136.28 166.25 138.78 166.52 141.39 166.80 144.09 167.08 146.84 167.35 149.62 167.63 152.43 167.90 155.22 168.18 157.98 168.45 160.69 168.73 163.32 169.00 165.85 169.28 168.26 169.56 170.51 169.83 172.66 170.11 174.75 170.38 176.86 170.66 179.06 170.93 181.40 171.21 183.94 171.48 186.64 171.76 189.48 172.04 192.44 172.31 195.49 172.59 198.62 172.86 201.79 173.14 204.99 173.41 208.20 173.69 211.39 173.96 214.53 174.24 217.62 174.52 220.61 174.79 223.50 175.07 226.26 175.34 228.98 175.62 231.71 175.89 234.44 176.17 237.16 176.44 239.88 176.72 242.59 177.00 245.29 177.27 247.97 177.55 250.63 177.82 253.27 178.10 255.88 178.37 258.46 178.65 261.01 178.92 263.52 179.20 265.99 179.48 268.41 179.75 270.79 180.03 273.12 180.30 275.39 180.58 277.61 180.85 279.76 181.13 281.85 181.40 283.88 181.68 285.83 181.96 287.70 182.23 289.50 182.51 291.21 182.78 292.85 183.06 294.42 183.33 295.93 183.61 297.39 183.88 298.81 184.16 300.19 184.44 301.55 184.71 302.89 184.99 304.23 185.26 305.56 185.54 306.90 185.81 308.26 186.09 309.65 186.36 311.03 186.64 312.40 186.92 313.75 187.19 315.09 187.47 316.43 187.74 317.76 188.02 319.08 188.29 320.40 188.57 321.71 188.84 323.02 189.12 324.33 189.40 325.64 189.67 326.95 189.95 328.27 190.22 329.59 190.50 330.91 190.77 332.25 191.05 333.59 191.32 334.94 191.60 336.30 191.88 337.67 192.15 339.07 192.43 340.53 192.70 342.05 192.98 343.60 193.25 345.19 193.53 346.79 193.80 348.39 194.08 349.97 194.36 351.53 194.63 353.04 194.91 354.50 195.18 355.89 195.46 357.20 195.73 358.41 196.01 359.51 196.28 360.49 196.56 361.38 196.84 362.20 197.11 362.97 197.39 363.69 197.66 364.38 197.94 365.05 198.21 365.70 198.49 366.34 198.76 366.99 199.04 367.66 199.32 368.35 199.59 369.08 199.87 369.84 200.14 370.63 200.42 371.45 200.69 372.27 200.97 373.09 201.24 373.91 201.52 374.71 201.80 375.49 202.07 376.23 202.35 376.93 202.62 377.60 202.90 378.35 203.17 379.09 203.45 379.68 203.72 379.98 204.00 379.97 204.28 379.86 204.55 379.75 204.83 379.70 205.10 379.82 205.38 380.09 205.65 380.42 205.93 380.77 206.20 381.21 206.48 381.72 206.76 382.29 207.03 382.86 207.31 383.41 207.58 383.95 207.86 384.52 208.13 385.09 208.41 385.66 208.68 386.22 208.96 386.75 209.24 387.23 209.51 387.67 209.79 388.09 210.06 388.50 210.34 388.89 210.61 389.27 210.89 389.64 211.16 390.00 211.44 390.35 211.72 390.70 211.99 391.03 212.27 391.35 212.54 391.66 212.82 391.97 213.09 392.27 213.37 392.56 213.64 392.84 213.92 393.12 214.20 393.39 214.47 393.66 214.75 393.92 215.02 394.18 215.30 394.43 215.57 394.67 215.85 394.91 216.12 395.14 216.40 395.37 216.68 395.59 216.95 395.81 217.23 396.02 217.50 396.23 217.78 396.43 218.05 396.63 218.33 396.82 218.60 397.00 218.88 397.18 219.16 397.36 219.43 397.54 219.71 397.71 219.98 397.88 220.26 398.05 220.53 398.22 220.81 398.38 221.08 398.55 221.36 398.71 221.64 398.87 221.91 399.02 222.19 399.18 222.46 399.33 222.74 399.48 223.01 399.63 223.29 399.77 223.56 399.91 223.84 400.06 224.12 400.20 224.39 400.33 224.67 400.47 224.94 400.60 225.22 400.73 225.49 400.86 225.77 400.99 226.04 401.12 226.32 401.24 226.60 401.36 226.87 401.48 227.15 401.60 227.42 401.72 227.70 401.84 227.97 401.95 228.25 402.06 228.52 402.17 228.80 402.28 229.08 402.39 229.35 402.50 229.63 402.61 229.90 402.71 230.18 402.82 230.45 402.93 230.73 403.03 231.00 403.13 231.28 403.23 231.56 403.34 231.83 403.43 232.11 403.53 232.38 403.63 232.66 403.72 232.93 403.82 233.21 403.91 233.48 404.00 233.76 404.09 234.04 404.18 234.31 404.26 234.59 404.35 234.86 404.43 235.14 404.51 235.41 404.58 235.69 404.66 235.96 404.73 236.24 404.80 236.52 404.87 236.79 404.94 237.07 405.00 237.34 405.07 237.62 405.13 237.89 405.18 238.17 405.24 238.44 405.30 238.72 405.35 239.00 405.41 239.27 405.46 239.55 405.52 239.82 405.57 240.10 405.62 240.37 405.67 240.65 405.72 240.92 405.77 241.20 405.82 241.48 405.87 241.75 405.91 242.03 405.96 242.30 406.00 242.58 406.05 242.85 406.09 243.13 406.13 243.40 406.17 243.68 406.21 243.96 406.25 244.23 406.29 244.51 406.32 244.78 406.36 245.06 406.40 245.33 406.43 245.61 406.46 245.88 406.49 246.16 406.52 246.44 406.55 246.71 406.58 246.99 406.61 247.26 406.64 247.54 406.66 247.81 406.69 248.09 406.72 248.36 406.74 248.64 406.77 248.92 406.79 249.19 406.82 249.47 406.84 249.74 406.87 250.02 406.89 250.29 406.92 250.57 406.94 250.84 406.96 251.12 406.99 251.40 407.01 251.67 407.03 251.95 407.06 252.22 407.08 252.50 407.10 252.77 407.12 253.05 407.14 253.32 407.16 253.60 407.18 253.88 407.20 254.15 407.22 254.43 407.24 254.70 407.26 254.98 407.28 255.25 407.29 255.53 407.31 255.80 407.33 256.08 407.34 256.36 407.36 256.63 407.37 256.91 407.38 257.18 407.40 257.46 407.41 257.73 407.42 258.01 407.43 258.28 407.45 258.56 407.46 258.84 407.47 259.11 407.48 259.39 407.48 259.66 407.49 259.94 407.50 260.21 407.51 260.49 407.51 260.76 407.52 261.04 407.52 261.32 407.53 261.59 407.54 261.87 407.54 262.14 407.55 262.42 407.56 262.69 407.56 262.97 407.57 263.24 407.57 263.52 407.58 263.80 407.58 264.07 407.59 264.35 407.60 264.62 407.60 264.90 407.61 265.17 407.61 265.45 407.62 265.72 407.62 266.00 407.63 266.28 407.63 266.55 407.64 266.83 407.64 267.10 407.65 267.38 407.65 267.65 407.66 267.93 407.66 268.20 407.67 268.48 407.67 268.76 407.68 269.03 407.68 269.31 407.69 269.58 407.69 269.86 407.70 270.13 407.70 270.41 407.70 270.68 407.71 270.96 407.71 271.24 407.72 271.51 407.72 271.79 407.73 272.06 407.73 272.34 407.73 272.61 407.74 272.89 407.74 273.16 407.75 273.44 407.75 273.72 407.75 273.99 407.76 274.27 407.76 274.54 407.77 274.82 407.77 275.09 407.77 275.37 407.78 275.64 407.78 275.92 407.78 276.20 407.79 276.47 407.79 276.75 407.79 277.02 407.80 277.30 407.80 277.57 407.80 277.85 407.81 278.12 407.81 278.40 407.81 278.68 407.82 278.95 407.82 279.23 407.82 279.50 407.83 279.78 407.83 280.05 407.83 280.33 407.83 280.60 407.84 280.88 407.84 281.16 407.84 281.43 407.85 281.71 407.85 281.98 407.85 282.26 407.85 282.53 407.86 282.81 407.86 283.08 407.86 283.36 407.87 283.64 407.87 283.91 407.87 284.19 407.87 284.46 407.88 284.74 407.88 285.01 407.88 285.29 407.88 285.56 407.89 285.84 407.89 286.12 407.89 286.39 407.89 286.67 407.90 286.94 407.90 287.22 407.90 287.49 407.90 287.77 407.90 288.04 407.91 288.32 407.91 288.60 407.91 288.87 407.91 289.15 407.92 289.42 407.92 289.70 407.92 289.97 407.92 290.25 407.93 290.52 407.93 290.80 407.93 291.08 407.93 291.35 407.93 291.63 407.94 291.90 407.94 292.18 407.94 292.45 407.94 292.73 407.94 293.00 407.95 293.28 407.95 293.56 407.95 293.83 407.95 294.11 407.96 294.38 407.96 294.66 407.96 294.93 407.96 295.21 407.96 295.48 407.97 295.76 407.97 296.04 407.97 296.31 407.97 296.59 407.97 296.86 407.98 297.14 407.98 297.41 407.98 297.69 407.98 297.96 407.98 298.24 407.99 298.52 407.99 298.79 407.99 299.07 407.99 299.34 407.99 299.62 408.00 299.89 408.00 300.17 408.00 300.44 408.00 300.72 408.01 301.00 408.01 301.27 408.01 301.55 408.01 301.82 408.01 302.10 408.02 302.37 408.02 302.65 408.02 302.92 408.02 303.20 408.02 303.48 408.03 303.75 408.03 304.03 408.03 304.30 408.03 304.58 408.04 304.85 408.04 305.13 408.04 305.40 408.04 305.68 408.04 305.96 408.05 306.23 408.05 306.51 408.05 306.78 408.05 307.06 408.06 307.33 408.06 307.61 408.06 307.88 408.06 308.16 408.06 308.44 408.07 308.71 408.07 308.99 408.07 309.26 408.07 309.54 408.07 309.81 408.08 310.09 408.08 310.36 408.08 310.64 408.08 310.92 408.09 311.19 408.09 311.47 408.09 311.74 408.09 312.02 408.09 312.29 408.10 312.57 408.10 312.84 408.10 313.12 408.10 313.40 408.10 313.67 408.11 313.95 408.11 314.22 408.11 314.50 408.11 314.77 408.11 315.05 408.12 315.32 408.12 315.60 408.12 315.88 408.12 316.15 408.12 316.43 408.13 316.70 408.13 316.98 408.13 317.25 408.13 317.53 408.14 317.80 408.14 318.08 408.14 318.36 408.14 318.63 408.14 318.91 408.15 319.18 408.15 319.46 408.15 319.73 408.15 320.01 408.15 320.28 408.15 320.56 408.16 320.84 408.16 321.11 408.16 321.39 408.16 321.66 408.16 321.94 408.17 322.21 408.17 322.49 408.17 322.76 408.17 323.04 408.17 323.32 408.18 323.59 408.18 323.87 408.18 324.14 408.18 324.42 408.18 324.69 408.19 324.97 408.19 325.24 408.19 325.52 408.19 325.80 408.19 326.07 408.19 326.35 408.20 326.62 408.20 326.90 408.20 327.17 408.20 327.45 408.20 327.72 408.20 328.00 408.21 328.28 408.21 328.55 408.21 328.83 408.21 329.10 408.21 329.38 408.21 329.65 408.22 329.93 408.22 330.20 408.22 330.48 408.22 330.76 408.22 331.03 408.22 331.31 408.23 331.58 408.23 331.86 408.23 332.13 408.23 332.41 408.23 332.68 408.23 332.96 408.24 333.24 408.24 333.51 408.24 333.79 408.24 334.06 408.24 334.34 408.24 334.61 408.24 334.89 408.25 335.16 408.25 335.44 408.25 335.72 408.25 335.99 408.25 336.27 408.25 336.54 408.25 336.82 408.25 337.09 408.26 337.37 408.26 337.64 408.26 337.92 408.26 338.20 408.26 338.47 408.26 338.75 408.26 339.02 408.26 339.30 408.27 339.57 408.27 339.85 408.27 340.12 408.27 340.40 408.27 340.68 408.27 340.95 408.27 341.23 408.27 341.50 408.27 341.78 408.28 342.05 408.28 342.33 408.28 342.60 408.28 342.88 408.28 343.16 408.28 343.43 408.28 343.71 408.28 343.98 408.28 344.26 408.28 344.53 408.28 344.81 408.28 345.08 408.29 345.36 408.29 345.64 408.29 345.91 408.29 346.19 408.29 346.46 408.29 346.74 408.29 347.01 408.29 347.29 408.29 347.56 408.29 347.84 408.29 348.12 408.29 348.39 408.29 348.67 408.29 348.94 408.29 349.22 408.29 349.49 408.30 349.77 408.30 350.04 408.30 350.32 408.30 350.60 408.30 350.87 408.30 351.15 408.30 351.42 408.30 351.70 408.30 351.97 408.30 352.25 408.30 352.52 408.30 352.80 408.30 353.08 408.30 353.35 408.30 353.63 408.30 353.90 408.30 354.18 408.30 354.45 408.30 354.73 408.30 355.00 408.30 355.28 408.29 355.56 408.28 355.83 408.25 356.11 408.21 356.38 408.17 356.66 408.11 356.93 408.05 357.21 407.98 357.48 407.90 357.76 407.82 358.04 407.73 358.31 407.64 358.59 407.54 358.86 407.44 359.14 407.33 359.41 407.23 359.69 407.12 359.96 407.01 360.24 406.90 360.52 406.76 360.79 406.61 361.07 406.44 361.34 406.26 361.62 406.06 361.89 405.85 362.17 405.63 362.44 405.40 362.72 405.16 363.00 404.91 363.27 404.66 363.55 404.40 363.82 404.13 364.10 403.87 364.37 403.60 364.65 403.34 364.92 403.07 365.20 402.81 365.48 402.53 365.75 402.25 366.03 401.97 366.30 401.67 366.58 401.37 366.85 401.07 367.13 400.75 367.40 400.43 367.68 400.11 367.96 399.78 368.23 399.44 368.51 399.10 368.78 398.76 369.06 398.41 369.33 398.06 369.61 397.70 369.88 397.34 370.16 396.98 370.44 396.61 370.71 396.25 370.99 395.88 371.26 395.50 371.54 395.13 371.81 394.75 372.09 394.38 372.36 393.99 372.64 393.59 372.92 393.18 373.19 392.75 373.47 392.32 373.74 391.88 374.02 391.43 374.29 390.98 374.57 390.53 374.84 390.07 375.12 389.61 375.40 389.16 375.67 388.70 375.95 388.25 376.22 387.80 376.50 387.36 376.77 386.92 377.05 386.50 377.32 386.08 377.60 385.67 377.88 385.28 378.15 384.90 378.43 384.53 378.70 384.17 378.98 383.80 379.25 383.43 379.53 383.06 379.80 382.70 380.08 382.35 380.36 382.00 380.63 381.67 380.91 381.34 381.18 381.03 381.46 380.74 381.73 380.46 382.01 380.20 382.28 379.97 382.56 379.75 382.84 379.54 383.11 379.32 383.39 379.12 383.66 378.95 383.94 378.84 384.21 378.80 384.49 378.97 384.76 379.37 385.04 379.87 385.32 380.36 385.59 380.71 385.87 380.80 386.14 380.75 386.42 380.65 386.69 380.51 386.97 380.33 387.24 380.13 387.52 379.91 387.80 379.69 388.07 379.47 388.35 379.27 388.62 379.06 388.90 378.83 389.17 378.59 389.45 378.34 389.72 378.08 390.00 377.80 390.28 377.52 390.55 377.23 390.83 376.93 391.10 376.63 391.38 376.33 391.65 376.02 391.93 375.71 392.20 375.40 392.48 375.09 392.76 374.78 393.03 374.47 393.31 374.17 393.58 373.88 393.86 373.59 394.13 373.31 394.41 373.04 394.68 372.78 394.96 372.53 395.24 372.30 395.51 372.06 395.79 371.83 396.06 371.60 396.34 371.38 396.61 371.17 396.89 370.96 397.16 370.75 397.44 370.55 397.72 370.36 397.99 370.17 398.27 369.98 398.54 369.80 398.82 369.62 399.09 369.44 399.37 369.26 399.64 369.08 399.92 368.90 400.20 368.73 400.47 368.56 400.75 368.39 401.02 368.22 401.30 368.05 401.57 367.89 401.85 367.73 402.12 367.57 402.40 367.41 402.68 367.26 402.95 367.11 403.23 366.96 403.50 366.81 403.78 366.67 404.05 366.53 404.33 366.39 404.60 366.26 404.88 366.13 405.16 366.00 405.43 365.87 405.71 365.75 405.98 365.63 406.26 365.52 406.53 365.40 406.81 365.29 407.08 365.17 407.36 365.07 407.64 364.96 407.91 364.85 408.19 364.75 408.46 364.65 408.74 364.55 409.01 364.45 409.29 364.36 409.56 364.27 409.84 364.18 410.12 364.09 410.39 364.01 410.67 363.92 410.94 363.84 411.22 363.77 411.49 363.69 411.77 363.62 412.04 363.54 412.32 363.47 412.60 363.40 412.87 363.32 413.15 363.25 413.42 363.18 413.70 363.11 413.97 363.05 414.25 362.98 414.52 362.91 414.80 362.85 415.08 362.78 415.35 362.72 415.63 362.66 415.90 362.60 416.18 362.54 416.45 362.48 416.73 362.42 417.00 362.36 417.28 362.30 417.56 362.25 417.83 362.19 418.11 362.14 418.38 362.09 418.66 362.03 418.93 361.98 419.21 361.93 419.48 361.89 419.76 361.84 420.04 361.79 420.31 361.75 420.59 361.70 420.86 361.66 421.14 361.62 421.41 361.58 421.69 361.53 421.96 361.49 422.24 361.45 422.52 361.41 422.79 361.37 423.07 361.33 423.34 361.30 423.62 361.26 423.89 361.22 424.17 361.18 424.44 361.15 424.72 361.11 425.00 361.08 425.27 361.04 425.55 361.01 425.82 360.98 426.10 360.95 426.37 360.92 426.65 360.89 426.92 360.86 427.20 360.84 427.48 360.81 427.75 360.79 428.03 360.77 428.30 360.75 428.58 360.73 428.85 360.71 429.13 360.69 429.40 360.68 429.68 360.66 429.96 360.65 430.23 360.63 430.51 360.62 430.78 360.61 431.06 360.59 431.33 360.58 431.61 360.57 431.88 360.55 432.16 360.54 432.44 360.53 432.71 360.52 432.99 360.51 433.26 360.50 433.54 360.49 433.81 360.48 434.09 360.47 434.36 360.46 434.64 360.45 434.92 360.44 435.19 360.43 435.47 360.42 435.74 360.41 436.02 360.40 436.29 360.39 436.57 360.38 436.84 360.38 437.12 360.37 437.40 360.36 437.67 360.35 437.95 360.35 438.22 360.34 438.50 360.33 438.77 360.33 439.05 360.32 439.32 360.31 439.60 360.31 439.88 360.30 440.15 360.30 440.43 360.29 440.70 360.29 440.98 360.28 441.25 360.27 441.53 360.27 441.80 360.26 442.08 360.26 442.36 360.25 442.63 360.25 442.91 360.24 443.18 360.24 443.46 360.23 443.73 360.22 444.01 360.22 444.28 360.21 444.56 360.21 444.84 360.20 445.11 360.20 445.39 360.19 445.66 360.19 445.94 360.18 446.21 360.18 446.49 360.17 446.76 360.17 447.04 360.16 447.32 360.16 447.59 360.15 447.87 360.15 448.14 360.15 448.42 360.14 448.69 360.14 448.97 360.13 449.24 360.13 449.52 360.12 449.80 360.12 450.07 360.11 450.35 360.11 450.62 360.10 450.90 360.10 451.17 360.10 451.45 360.09 451.72 360.09 452.00 360.08 452.28 360.08 452.55 360.08 452.83 360.07 453.10 360.07 453.38 360.06 453.65 360.06 453.93 360.06 454.20 360.05 454.48 360.05 454.76 360.04 455.03 360.04 455.31 360.04 455.58 360.03 455.86 360.03 456.13 360.03 456.41 360.02 456.68 360.02 456.96 360.02 457.24 360.01 457.51 360.01 457.79 360.01 458.06 360.00 458.34 360.00 458.61 360.00 458.89 359.99 459.16 359.99 459.44 359.99 459.72 359.98 459.99 359.98 460.27 359.98 460.54 359.97 460.82 359.97 461.09 359.97 461.37 359.97 461.64 359.96 461.92 359.96 462.20 359.96 462.47 359.96 462.75 359.95 463.02 359.95 463.30 359.95 463.57 359.95 463.85 359.94 464.12 359.94 464.40 359.94 464.68 359.94 464.95 359.93 465.23 359.93 465.50 359.93 465.78 359.93 466.05 359.93 466.33 359.92 466.60 359.92 466.88 359.92 467.16 359.92 467.43 359.92 467.71 359.91 467.98 359.91 468.26 359.91 468.53 359.91 468.81 359.91 469.08 359.91 469.36 359.90 469.64 359.90 469.91 359.90 470.19 359.90 470.46 359.90 470.74 359.90 471.01 359.89 471.29 359.89 471.56 359.89 471.84 359.89 472.12 359.89 472.39 359.89 472.67 359.89 472.94 359.88 473.22 359.88 473.49 359.88 473.77 359.88 474.04 359.88 474.32 359.88 474.60 359.88 474.87 359.87 475.15 359.87 475.42 359.87 475.70 359.87 475.97 359.87 476.25 359.87 476.52 359.87 476.80 359.86 477.08 359.86 477.35 359.86 477.63 359.86 477.90 359.86 478.18 359.86 478.45 359.86 478.73 359.86 479.00 359.85 479.28 359.85 479.56 359.85 479.83 359.85 480.11 359.85 480.38 359.85 480.66 359.85 480.93 359.84 481.21 359.84 481.48 359.84 481.76 359.84 482.04 359.84 482.31 359.84 482.59 359.84 482.86 359.84 483.14 359.83 483.41 359.83 483.69 359.83 483.96 359.83 484.24 359.83 484.52 359.83 484.79 359.83 485.07 359.82 485.34 359.82 485.62 359.82 485.89 359.82 486.17 359.82 486.44 359.82 486.72 359.82 487.00 359.82 487.27 359.81 487.55 359.81 487.82 359.81 488.10 359.81 488.37 359.81 488.65 359.81 488.92 359.81 489.20 359.81 489.48 359.80 489.75 359.80 490.03 359.80 490.30 359.80 490.58 359.80 490.85 359.80 491.13 359.80 491.40 359.80 491.68 359.79 491.96 359.79 492.23 359.79 492.51 359.79 492.78 359.79 493.06 359.79 493.33 359.79 493.61 359.79 493.88 359.79 494.16 359.78 494.44 359.78 494.71 359.78 494.99 359.78 495.26 359.78 495.54 359.78 495.81 359.78 496.09 359.78 496.36 359.77 496.64 359.77 496.92 359.77 497.19 359.77 497.47 359.77 497.74 359.77 498.02 359.77 498.29 359.77 498.57 359.77 498.84 359.76 499.12 359.76 499.40 359.76 499.67 359.76 499.95 359.76 500.22 359.76 500.50 359.76 500.77 359.76 501.05 359.76 501.32 359.75 501.60 359.75 501.88 359.75 502.15 359.75 502.43 359.75 502.70 359.75 502.98 359.75 503.25 359.75 503.53 359.75 503.80 359.74 504.08 359.74 504.36 359.74 504.63 359.74 504.91 359.74 505.18 359.74 505.46 359.74 505.73 359.74 506.01 359.74 506.28 359.74 506.56 359.73 506.84 359.73 507.11 359.73 507.39 359.73 507.66 359.73 507.94 359.73 508.21 359.73 508.49 359.73 508.76 359.73 509.04 359.73 509.32 359.72 509.59 359.72 509.87 359.72 510.14 359.72 510.42 359.72 510.69 359.72 510.97 359.72 511.24 359.72 511.52 359.72 511.80 359.72 512.07 359.71 512.35 359.71 512.62 359.71 512.90 359.71 513.17 359.71 513.45 359.71 513.72 359.71 514.00 359.71 514.28 359.71 514.55 359.71 514.83 359.71 515.10 359.70 515.38 359.70 515.65 359.70 515.93 359.70 516.20 359.70 516.48 359.70 516.76 359.70 517.03 359.70 517.31 359.70 517.58 359.70 517.86 359.70 518.13 359.69 518.41 359.69 518.68 359.69 518.96 359.69 519.24 359.69 519.51 359.69 519.79 359.69 520.06 359.69 520.34 359.69 520.61 359.69 520.89 359.69 521.16 359.69 521.44 359.68 521.72 359.68 521.99 359.68 522.27 359.68 522.54 359.68 522.82 359.68 523.09 359.68 523.37 359.68 523.64 359.68 523.92 359.68 524.20 359.68 524.47 359.68 524.75 359.67 525.02 359.67 525.30 359.67 525.57 359.67 525.85 359.67 526.12 359.67 526.40 359.67 526.68 359.67 526.95 359.67 527.23 359.67 527.50 359.67 527.78 359.67 528.05 359.67 528.33 359.66 528.60 359.66 528.88 359.66 529.16 359.66 529.43 359.66 529.71 359.66 529.98 359.66 530.26 359.66 530.53 359.66 530.81 359.66 531.08 359.66 531.36 359.66 531.64 359.66 531.91 359.66 532.19 359.65 532.46 359.65 532.74 359.65 533.01 359.65 533.29 359.65 533.56 359.65 533.84 359.65 534.12 359.65 534.39 359.65 534.67 359.65 534.94 359.65 535.22 359.65 535.49 359.65 535.77 359.65 536.04 359.65 536.32 359.65 536.60 359.64 536.87 359.64 537.15 359.64 537.42 359.64 537.70 359.64 537.97 359.64 538.25 359.64 538.52 359.64 538.80 359.64 539.08 359.64 539.35 359.64 539.63 359.64 539.90 359.64 540.18 359.64 540.45 359.64 540.73 359.64 541.00 359.64 541.28 359.63 541.56 359.63 541.83 359.63 542.11 359.63 542.38 359.63 542.66 359.63 542.93 359.63 543.21 359.63 543.48 359.63 543.76 359.63 544.04 359.63 544.31 359.63 544.59 359.63 544.86 359.63 545.14 359.63 545.41 359.63 545.69 359.63 545.96 359.63 546.24 359.63 546.52 359.63 546.79 359.62 547.07 359.62 547.34 359.62 547.62 359.62 547.89 359.62 548.17 359.62 548.44 359.62 548.72 359.62 549.00 359.62 549.27 359.62 549.55 359.62 549.82 359.62 550.10 359.62 550.37 359.62 550.65 359.62 550.92 359.62 551.20 359.62 551.48 359.62 551.75 359.62 552.03 359.62 552.30 359.62 552.58 359.62 552.85 359.62 553.13 359.62 553.40 359.61 553.68 359.61 553.96 359.61 554.23 359.61 554.51 359.61 554.78 359.61 555.06 359.61 555.33 359.61 555.61 359.61 555.88 359.61 556.16 359.61 556.44 359.61 556.71 359.61 556.99 359.61 557.26 359.61 557.54 359.61 557.81 359.61 558.09 359.61 558.36 359.61 558.64 359.61 558.92 359.61 559.19 359.61 559.47 359.61 559.74 359.61 560.02 359.61 560.29 359.61 560.57 359.61 560.84 359.61 561.12 359.61 561.40 359.61 561.67 359.61 561.95 359.61 562.22 359.61 562.50 359.61 562.77 359.61 563.05 359.60 563.32 359.60 563.60 359.60 563.88 359.60 564.15 359.60 564.43 359.60 564.70 359.60 564.98 359.60 565.25 359.60 565.53 359.60 565.80 359.60 566.08 359.60 566.36 359.60 566.63 359.60 566.91 359.60 567.18 359.60 567.46 359.60 567.73 359.60 568.01 359.60 568.28 359.60 568.56 359.60 568.84 359.60 569.11 359.60 569.39 359.60 569.66 359.60 569.94 359.60 570.21 359.60 570.49 359.60 570.76 359.60 571.04 359.60 571.32 359.60 571.59 359.60 571.87 359.60 572.14 359.60 572.42 359.60 572.69 359.60 572.97 359.60 573.24 359.60 573.52 359.60 573.80 359.60 574.07 359.60 574.35 359.60 574.62 359.60 574.90 359.60 575.17 359.60 575.45 359.60 575.72 359.60 576.00 359.60" stroke="#000" stroke-width="2.083" stroke-linejoin="round" fill="none"/>
<circle cx="127.40" cy="360.40" r="4.86" fill="#ff0000"/>
<circle cx="141.20" cy="244.30" r="4.86" fill="#ff0000"/>
<circle cx="155.00" cy="76.25" r="4.86" fill="#ff0000"/>
<circle cx="169.25" cy="168.00" r="4.86" fill="#ff0000"/>
<circle cx="182.30" cy="289.30" r="4.86" fill="#ff0000"/>
</g>
<path fill="#000" d="M80 58h1v370h-1zM576 58h1v370h-1zM80 58h497v1h-497zM80 427h497v1h-497z"/>
<g opacity="0.999" style="will-change:transform">
<text transform="translate(60.00 448.00) scale(1.08 1)" x="1.33 11.01 19.17 27.27">−100</text>
<text transform="translate(132.00 448.00) scale(1.08 1)" x="0.19">0</text>
<text transform="translate(178.00 448.00) scale(1.08 1)" x="0.25 8.41 16.51">100</text>
<text transform="translate(232.00 448.00) scale(1.08 1)" x="0.19 8.29 16.39">200</text>
<text transform="translate(287.00 448.00) scale(1.08 1)" x="0.19 8.29 16.39">300</text>
<text transform="translate(343.00 448.00) scale(1.08 1)" x="0.19 8.29 16.39">400</text>
<text transform="translate(398.00 448.00) scale(1.08 1)" x="0.19 8.29 16.39">500</text>
<text transform="translate(453.00 448.00) scale(1.08 1)" x="0.25 8.41 16.51">600</text>
<text transform="translate(508.00 448.00) scale(1.08 1)" x="0.19 8.29 16.39">700</text>
<text transform="translate(563.00 448.00) scale(1.08 1)" x="0.25 8.41 16.51">800</text>
<text transform="translate(23.00 433.00) scale(1.08 1)" x="1.33 10.95 19.05 27.16 35.26">−2000</text>
<text transform="translate(62.00 366.00) scale(1.08 1)" x="0.19">0</text>
<text transform="translate(35.00 298.00) scale(1.08 1)" x="0.19 8.29 16.39 24.49">2000</text>
<text transform="translate(36.00 231.00) scale(1.08 1)" x="0.19 8.29 16.39 24.49">4000</text>
<text transform="translate(35.00 164.00) scale(1.08 1)" x="0.25 8.41 16.51 24.61">6000</text>
<text transform="translate(35.00 97.00) scale(1.08 1)" x="0.25 8.41 16.51 24.61">8000</text>
<text transform="translate(295.00 468.00) scale(1.08 1)" x="-0.48 7.77 11.58 23.68 36.15 40.81 48.55 55.94">Time[ns]</text>
<text transform="translate(14.00 328.00) rotate(-90) scale(1.08 1)" x="-0.23 9.26 21.54 29.77 33.35 37.31 41.97 50.13 58.17 70.64 74.88 83.87 93.36 106.44 116.05 124.03 132.13 140.66 144.97 152.35">Amplitude[ADCCounts]</text>
<text transform="translate(106.00 79.00) scale(1.08 1)" font-style="italic" x="-0.23 8.48 16.37 23.58 32.06">ATLAS</text><text transform="translate(106.00 79.00) scale(1.08 1)" x="44.56 54.50 62.66 70.94 75.97 83.99 92.03">Upgrade</text>
<text transform="translate(105.00 97.00) scale(1.08 1)" x="3.88 13.04 20.96 29.05 34.16 42.32 50.48 58.64 66.65 74.84 82.94 90.93 98.92 107.29">Board260,50ohm</text>
<text transform="translate(106.00 114.00) scale(1.08 1)" x="3.55 13.27 21.37 29.53 37.69 49.84 57.94 66.10 73.90">Ch01350dB</text>
</g>
<path d="M246.28 111.50L566.72 111.50Q569.50 111.50 569.50 108.72L569.50 68.28Q569.50 65.50 566.72 65.50L246.28 65.50Q243.50 65.50 243.50 68.28L243.50 108.72Q243.50 111.50 246.28 111.50z" fill="#fff" fill-opacity="0.8" stroke="#ccc" stroke-opacity="0.8" stroke-width="1.389"/>
<path d="M249.09 76H276.86" stroke="#000" stroke-width="2.083" stroke-linecap="square"/>
<circle cx="263.5" cy="97.5" r="4.86" fill="#ff0000"/>
<g opacity="0.999" style="will-change:transform">
<text transform="translate(288.00 81.00) scale(1.08 1)" x="0.13 8.33 15.70 23.84 28.95 37.05 45.10 57.20 60.72 69.25 73.80 81.95 87.17 90.58 98.51 106.71 114.08 122.12 134.39 142.55 150.71 153.88 160.72 172.76 180.77 184.91 193.01 201.11 209.27 217.43 225.54 233.91 245.72">averageinterleavedpulse0.037947mA</text>
<text transform="translate(288.00 102.00) scale(1.08 1)" x="0.47 12.63 20.83 32.42 40.58 48.63 56.31 63.15 71.16 79.53 87.69 95.85 108.10 112.60 122.49 129.94 143.65 151.97 164.25 173.55 183.17 191.18 195.33 203.43 211.53 219.69 227.91 236.07 244.16">maxphase:631(OFCamp=0.075895)</text>
</g>
</svg></body></html>
